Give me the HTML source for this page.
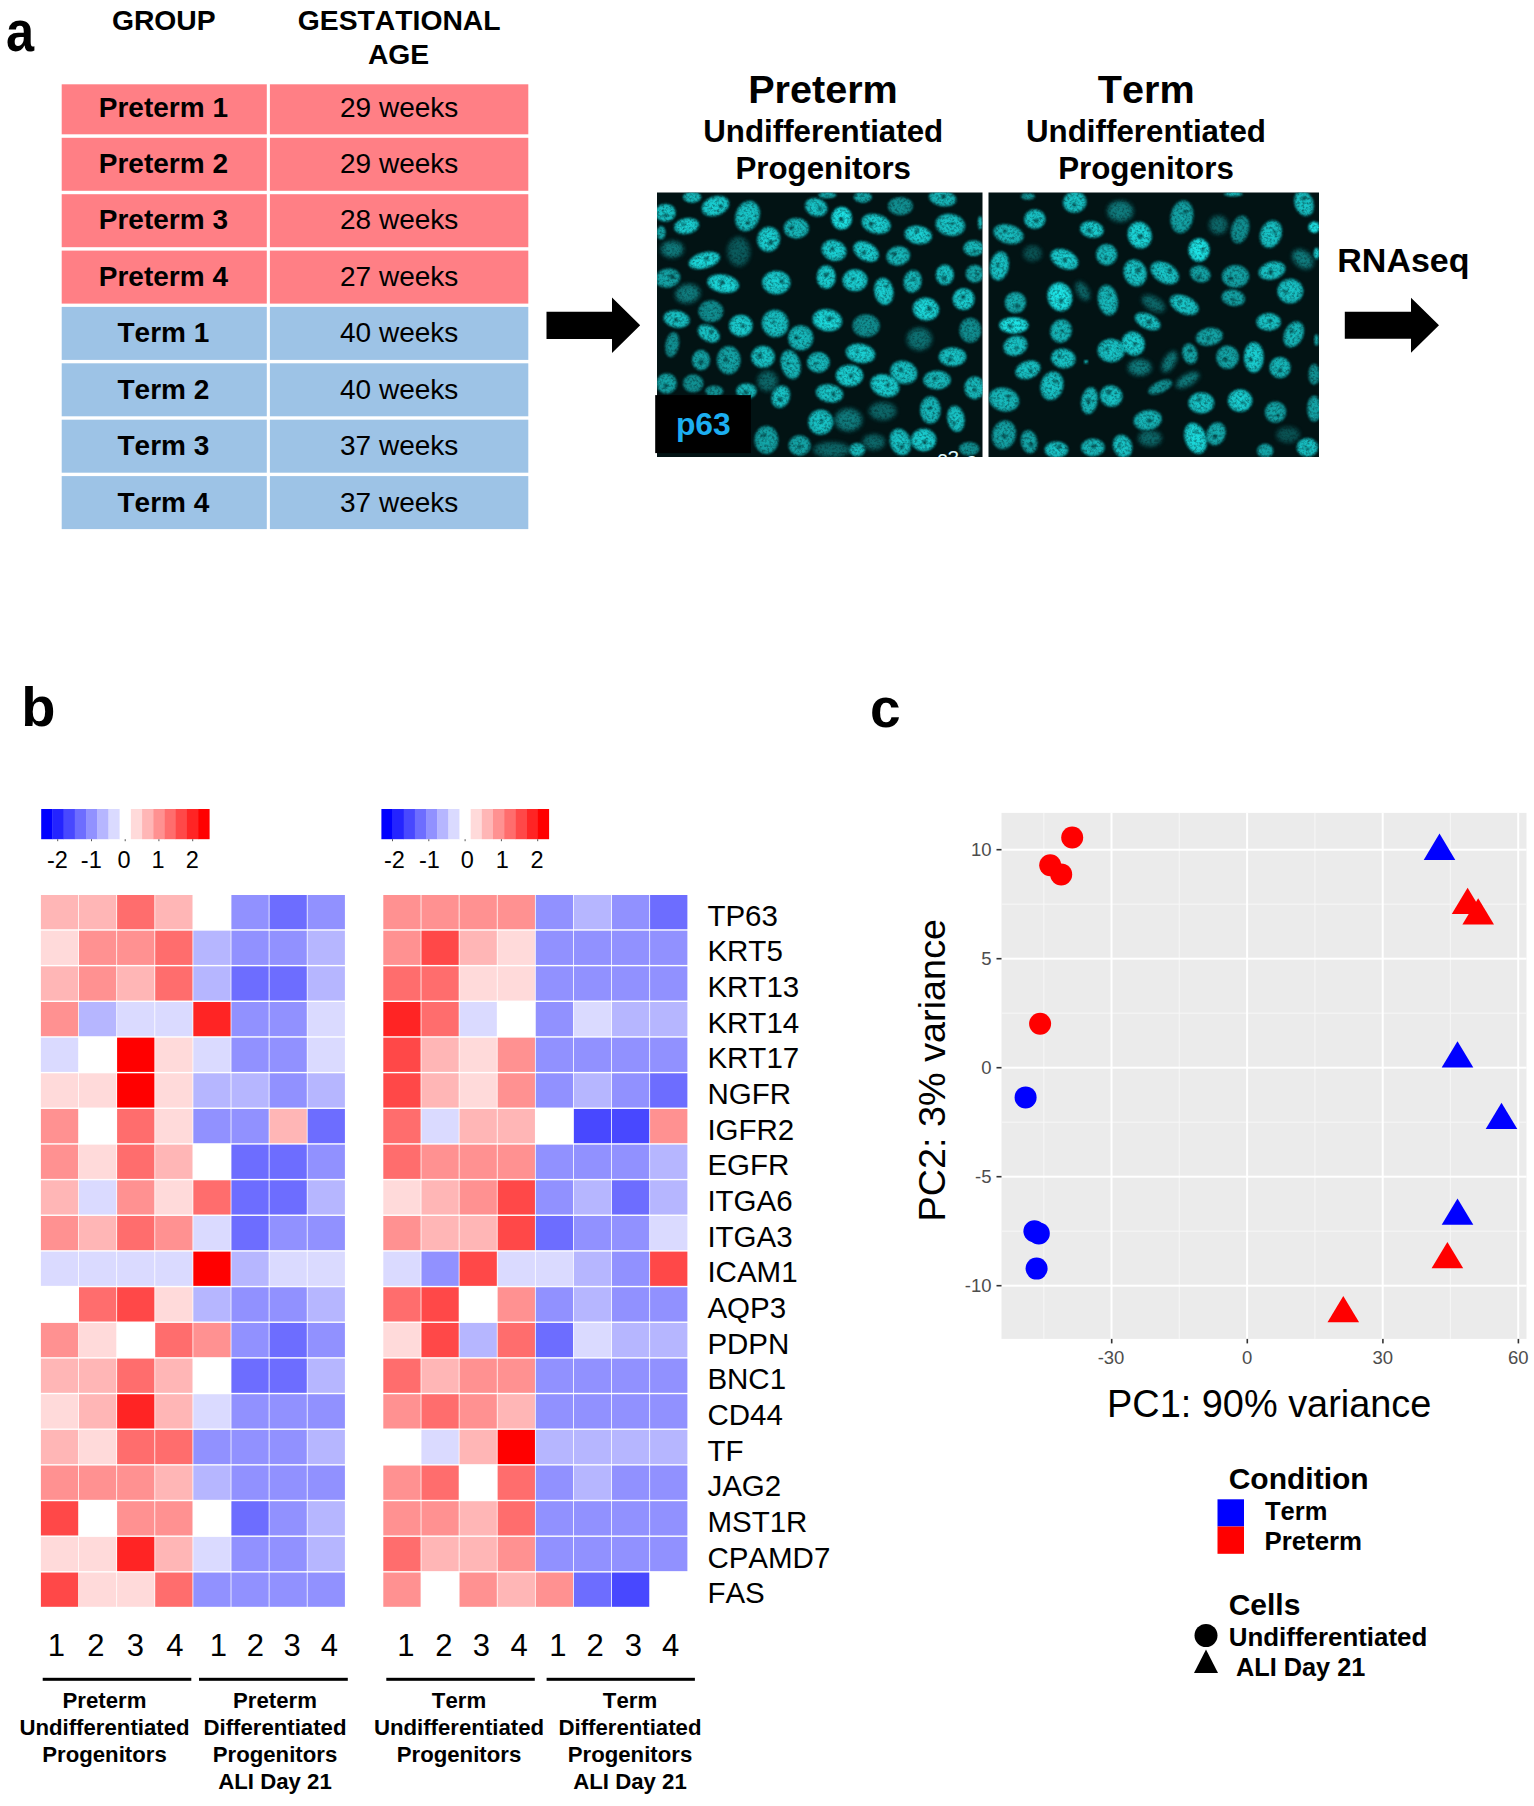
<!DOCTYPE html>
<html lang="en"><head><meta charset="utf-8"><title>Figure</title>
<style>
html,body{margin:0;padding:0;background:#fff;}
body{width:1534px;height:1806px;overflow:hidden;font-family:"Liberation Sans",Arial,sans-serif;}
svg{display:block}
text{font-family:"Liberation Sans",Arial,sans-serif;fill:#000;font-kerning:none;font-feature-settings:"kern" 0,"liga" 0}
.b{font-weight:bold}
.m{text-anchor:middle}
.e{text-anchor:end}
.g{fill:#4d4d4d}
</style></head><body>
<svg width="1534" height="1806" viewBox="0 0 1534 1806">
<defs>
<radialGradient id="ng" cx="50%" cy="50%" r="50%"><stop offset="0" stop-color="#20eaec"/><stop offset="0.75" stop-color="#1bd9dc"/><stop offset="1" stop-color="#0ea8ac"/></radialGradient>
<filter id="bl" x="-20%" y="-20%" width="140%" height="140%"><feGaussianBlur stdDeviation="0.9"/></filter>
<filter id="bl2" x="-30%" y="-30%" width="160%" height="160%"><feGaussianBlur stdDeviation="2.2"/></filter>
<filter id="tex" filterUnits="userSpaceOnUse" x="650" y="185" width="680" height="280" color-interpolation-filters="sRGB">
<feTurbulence type="fractalNoise" baseFrequency="0.4" numOctaves="2" seed="7" result="n"/>
<feColorMatrix in="n" type="matrix" values="1.0 0 0 0 0.42  1.0 0 0 0 0.42  1.0 0 0 0 0.42  0 0 0 0 1" result="m"/>
<feComposite in="SourceGraphic" in2="m" operator="arithmetic" k1="1" k2="0" k3="0" k4="0"/>
</filter>
<clipPath id="c1"><rect x="657" y="192.5" width="325.5" height="264.5"/></clipPath>
<clipPath id="c2"><rect x="988.5" y="192.5" width="330.5" height="264.5"/></clipPath>
</defs>
<rect width="1534" height="1806" fill="#fff"/>
<text class="b" transform="translate(6.05 51) scale(0.871 1)" font-size="58">a</text>
<text class="b m" x="163.8" y="29.7" font-size="28.3">GROUP</text>
<text class="b m" x="399.2" y="29.7" font-size="28.3">GESTATIONAL</text>
<text class="b m" x="398.6" y="63.7" font-size="28.3">AGE</text>
<rect x="61.7" y="84.3" width="205.1" height="50" fill="#FF7F85"/>
<rect x="269.9" y="84.3" width="258.4" height="50" fill="#FF7F85"/>
<text class="b m" x="163.4" y="117.4" font-size="28">Preterm 1</text>
<text class="m" x="399.2" y="117.4" font-size="28">29 weeks</text>
<rect x="61.7" y="137.8" width="205.1" height="53" fill="#FF7F85"/>
<rect x="269.9" y="137.8" width="258.4" height="53" fill="#FF7F85"/>
<text class="b m" x="163.4" y="172.8" font-size="28">Preterm 2</text>
<text class="m" x="399.2" y="172.8" font-size="28">29 weeks</text>
<rect x="61.7" y="194.2" width="205.1" height="53" fill="#FF7F85"/>
<rect x="269.9" y="194.2" width="258.4" height="53" fill="#FF7F85"/>
<text class="b m" x="163.4" y="229.3" font-size="28">Preterm 3</text>
<text class="m" x="399.2" y="229.3" font-size="28">28 weeks</text>
<rect x="61.7" y="250.6" width="205.1" height="53" fill="#FF7F85"/>
<rect x="269.9" y="250.6" width="258.4" height="53" fill="#FF7F85"/>
<text class="b m" x="163.4" y="285.8" font-size="28">Preterm 4</text>
<text class="m" x="399.2" y="285.8" font-size="28">27 weeks</text>
<rect x="61.7" y="306.9" width="205.1" height="53" fill="#9DC3E6"/>
<rect x="269.9" y="306.9" width="258.4" height="53" fill="#9DC3E6"/>
<text class="b m" x="163.4" y="342.3" font-size="28">Term 1</text>
<text class="m" x="399.2" y="342.3" font-size="28">40 weeks</text>
<rect x="61.7" y="363.3" width="205.1" height="53" fill="#9DC3E6"/>
<rect x="269.9" y="363.3" width="258.4" height="53" fill="#9DC3E6"/>
<text class="b m" x="163.4" y="398.8" font-size="28">Term 2</text>
<text class="m" x="399.2" y="398.8" font-size="28">40 weeks</text>
<rect x="61.7" y="419.7" width="205.1" height="53" fill="#9DC3E6"/>
<rect x="269.9" y="419.7" width="258.4" height="53" fill="#9DC3E6"/>
<text class="b m" x="163.4" y="455.3" font-size="28">Term 3</text>
<text class="m" x="399.2" y="455.3" font-size="28">37 weeks</text>
<rect x="61.7" y="476.1" width="205.1" height="53" fill="#9DC3E6"/>
<rect x="269.9" y="476.1" width="258.4" height="53" fill="#9DC3E6"/>
<text class="b m" x="163.4" y="511.8" font-size="28">Term 4</text>
<text class="m" x="399.2" y="511.8" font-size="28">37 weeks</text>
<path d="M546.5 311.7 H612 V297.5 L640.2 325.3 L612 353.1 V338.90000000000003 H546.5 Z" fill="#000"/>
<path d="M1344.8 311.8 H1411 V297.8 L1439 325.3 L1411 352.8 V338.8 H1344.8 Z" fill="#000"/>
<text class="b" x="1337.3" y="271.8" font-size="34">RNAseq</text>
<text class="b m" x="823" y="102.8" font-size="39.6">Preterm</text>
<text class="b m" x="823.2" y="142" font-size="31.3">Undifferentiated</text>
<text class="b m" x="823.2" y="178.8" font-size="31.3">Progenitors</text>
<text class="b m" x="1146.2" y="102.8" font-size="39.6">Term</text>
<text class="b m" x="1146" y="142" font-size="31.3">Undifferentiated</text>
<text class="b m" x="1146" y="178.8" font-size="31.3">Progenitors</text>
<rect x="657" y="192.5" width="325.5" height="264.5" fill="#021314"/>
<g clip-path="url(#c1)"><g filter="url(#tex)">
<ellipse cx="665.5" cy="212.7" rx="10.5" ry="9.3" transform="rotate(0 665.5 212.7)" fill="url(#ng)" opacity="0.85" filter="url(#bl)"/>
<circle cx="665.7" cy="215.3" r="2.0" fill="#04383b" opacity="0.75" filter="url(#bl)"/>
<ellipse cx="692.1" cy="197.2" rx="9.3" ry="5.8" transform="rotate(0 692.1 197.2)" fill="url(#ng)" opacity="0.8" filter="url(#bl)"/>
<ellipse cx="686.6" cy="226.0" rx="12.8" ry="8.1" transform="rotate(-10 686.6 226.0)" fill="url(#ng)" opacity="0.9" filter="url(#bl)"/>
<circle cx="683.5" cy="224.5" r="1.7" fill="#04383b" opacity="0.75" filter="url(#bl)"/>
<ellipse cx="715.4" cy="206.1" rx="14.4" ry="9.8" transform="rotate(-20 715.4 206.1)" fill="url(#ng)" opacity="0.9" filter="url(#bl)"/>
<circle cx="720.8" cy="206.4" r="1.9" fill="#04383b" opacity="0.75" filter="url(#bl)"/>
<ellipse cx="747.5" cy="216.0" rx="12.1" ry="15.8" transform="rotate(20 747.5 216.0)" fill="url(#ng)" opacity="0.85" filter="url(#bl)"/>
<circle cx="748.0" cy="222.8" r="2.1" fill="#04383b" opacity="0.75" filter="url(#bl)"/>
<ellipse cx="661.1" cy="232.7" rx="4.7" ry="7.0" transform="rotate(0 661.1 232.7)" fill="url(#ng)" opacity="0.7" filter="url(#bl)"/>
<ellipse cx="672.2" cy="249.3" rx="11.6" ry="8.8" transform="rotate(0 672.2 249.3)" fill="url(#ng)" opacity="0.5" filter="url(#bl2)"/>
<ellipse cx="704.3" cy="260.4" rx="16.3" ry="8.1" transform="rotate(-15 704.3 260.4)" fill="url(#ng)" opacity="0.95" filter="url(#bl)"/>
<circle cx="706.4" cy="258.6" r="2.2" fill="#04383b" opacity="0.75" filter="url(#bl)"/>
<ellipse cx="738.7" cy="251.5" rx="11.6" ry="15.1" transform="rotate(0 738.7 251.5)" fill="url(#ng)" opacity="0.35" filter="url(#bl2)"/>
<ellipse cx="768.6" cy="239.3" rx="11.6" ry="12.8" transform="rotate(10 768.6 239.3)" fill="url(#ng)" opacity="0.9" filter="url(#bl)"/>
<circle cx="770.7" cy="242.5" r="2.5" fill="#04383b" opacity="0.75" filter="url(#bl)"/>
<ellipse cx="796.3" cy="228.2" rx="12.8" ry="10.5" transform="rotate(0 796.3 228.2)" fill="url(#ng)" opacity="0.8" filter="url(#bl)"/>
<circle cx="791.9" cy="227.7" r="2.3" fill="#04383b" opacity="0.75" filter="url(#bl)"/>
<ellipse cx="816.2" cy="207.2" rx="11.6" ry="9.3" transform="rotate(20 816.2 207.2)" fill="url(#ng)" opacity="0.85" filter="url(#bl)"/>
<circle cx="819.9" cy="208.4" r="2.2" fill="#04383b" opacity="0.75" filter="url(#bl)"/>
<ellipse cx="841.7" cy="218.2" rx="10.5" ry="11.6" transform="rotate(0 841.7 218.2)" fill="url(#ng)" opacity="1.0" filter="url(#bl)"/>
<circle cx="841.4" cy="219.4" r="2.5" fill="#04383b" opacity="0.75" filter="url(#bl)"/>
<ellipse cx="827.3" cy="195.0" rx="9.3" ry="3.5" transform="rotate(0 827.3 195.0)" fill="url(#ng)" opacity="0.7" filter="url(#bl)"/>
<ellipse cx="862.8" cy="197.2" rx="9.3" ry="5.8" transform="rotate(0 862.8 197.2)" fill="url(#ng)" opacity="0.7" filter="url(#bl)"/>
<ellipse cx="876.1" cy="223.8" rx="15.1" ry="9.8" transform="rotate(15 876.1 223.8)" fill="url(#ng)" opacity="0.9" filter="url(#bl)"/>
<circle cx="871.1" cy="224.3" r="2.5" fill="#04383b" opacity="0.75" filter="url(#bl)"/>
<ellipse cx="900.4" cy="206.1" rx="12.8" ry="9.3" transform="rotate(0 900.4 206.1)" fill="url(#ng)" opacity="0.6" filter="url(#bl)"/>
<ellipse cx="918.2" cy="234.9" rx="14.0" ry="9.3" transform="rotate(10 918.2 234.9)" fill="url(#ng)" opacity="0.9" filter="url(#bl)"/>
<circle cx="916.9" cy="231.2" r="2.0" fill="#04383b" opacity="0.75" filter="url(#bl)"/>
<ellipse cx="942.6" cy="198.3" rx="14.0" ry="8.1" transform="rotate(10 942.6 198.3)" fill="url(#ng)" opacity="0.8" filter="url(#bl)"/>
<circle cx="943.6" cy="196.4" r="2.5" fill="#04383b" opacity="0.75" filter="url(#bl)"/>
<ellipse cx="950.3" cy="224.9" rx="15.1" ry="11.2" transform="rotate(10 950.3 224.9)" fill="url(#ng)" opacity="0.85" filter="url(#bl)"/>
<circle cx="951.7" cy="223.9" r="1.7" fill="#04383b" opacity="0.75" filter="url(#bl)"/>
<ellipse cx="973.6" cy="248.2" rx="10.5" ry="8.1" transform="rotate(0 973.6 248.2)" fill="url(#ng)" opacity="0.8" filter="url(#bl)"/>
<circle cx="974.5" cy="251.5" r="2.0" fill="#04383b" opacity="0.75" filter="url(#bl)"/>
<ellipse cx="834.0" cy="250.4" rx="12.8" ry="10.5" transform="rotate(20 834.0 250.4)" fill="url(#ng)" opacity="0.9" filter="url(#bl)"/>
<circle cx="832.2" cy="248.9" r="2.1" fill="#04383b" opacity="0.75" filter="url(#bl)"/>
<ellipse cx="866.1" cy="251.5" rx="14.0" ry="9.3" transform="rotate(30 866.1 251.5)" fill="url(#ng)" opacity="0.9" filter="url(#bl)"/>
<circle cx="863.9" cy="252.8" r="2.2" fill="#04383b" opacity="0.75" filter="url(#bl)"/>
<ellipse cx="898.2" cy="255.9" rx="12.1" ry="9.8" transform="rotate(-10 898.2 255.9)" fill="url(#ng)" opacity="0.8" filter="url(#bl)"/>
<circle cx="894.1" cy="254.0" r="2.3" fill="#04383b" opacity="0.75" filter="url(#bl)"/>
<ellipse cx="667.7" cy="278.1" rx="12.8" ry="9.8" transform="rotate(-10 667.7 278.1)" fill="url(#ng)" opacity="0.7" filter="url(#bl)"/>
<circle cx="672.1" cy="276.5" r="2.6" fill="#04383b" opacity="0.75" filter="url(#bl)"/>
<ellipse cx="723.1" cy="283.6" rx="16.3" ry="9.3" transform="rotate(10 723.1 283.6)" fill="url(#ng)" opacity="0.95" filter="url(#bl)"/>
<circle cx="722.0" cy="282.4" r="2.5" fill="#04383b" opacity="0.75" filter="url(#bl)"/>
<ellipse cx="776.3" cy="282.5" rx="14.4" ry="12.1" transform="rotate(0 776.3 282.5)" fill="url(#ng)" opacity="0.9" filter="url(#bl)"/>
<circle cx="781.9" cy="281.4" r="2.2" fill="#04383b" opacity="0.75" filter="url(#bl)"/>
<ellipse cx="826.2" cy="277.0" rx="9.8" ry="12.1" transform="rotate(0 826.2 277.0)" fill="url(#ng)" opacity="0.9" filter="url(#bl)"/>
<circle cx="825.8" cy="275.0" r="2.4" fill="#04383b" opacity="0.75" filter="url(#bl)"/>
<ellipse cx="855.0" cy="280.3" rx="12.8" ry="11.2" transform="rotate(0 855.0 280.3)" fill="url(#ng)" opacity="0.9" filter="url(#bl)"/>
<circle cx="852.8" cy="279.4" r="1.7" fill="#04383b" opacity="0.75" filter="url(#bl)"/>
<ellipse cx="883.8" cy="291.4" rx="9.8" ry="14.0" transform="rotate(-10 883.8 291.4)" fill="url(#ng)" opacity="0.9" filter="url(#bl)"/>
<circle cx="886.3" cy="286.7" r="1.7" fill="#04383b" opacity="0.75" filter="url(#bl)"/>
<ellipse cx="912.6" cy="281.4" rx="9.3" ry="11.6" transform="rotate(10 912.6 281.4)" fill="url(#ng)" opacity="0.8" filter="url(#bl)"/>
<circle cx="913.3" cy="278.8" r="1.8" fill="#04383b" opacity="0.75" filter="url(#bl)"/>
<ellipse cx="944.8" cy="274.8" rx="9.3" ry="10.5" transform="rotate(0 944.8 274.8)" fill="url(#ng)" opacity="0.85" filter="url(#bl)"/>
<circle cx="943.9" cy="278.3" r="2.5" fill="#04383b" opacity="0.75" filter="url(#bl)"/>
<ellipse cx="974.7" cy="273.7" rx="9.3" ry="9.3" transform="rotate(0 974.7 273.7)" fill="url(#ng)" opacity="0.7" filter="url(#bl)"/>
<circle cx="977.4" cy="274.4" r="1.6" fill="#04383b" opacity="0.75" filter="url(#bl)"/>
<ellipse cx="687.7" cy="293.6" rx="12.8" ry="9.8" transform="rotate(-10 687.7 293.6)" fill="url(#ng)" opacity="0.5" filter="url(#bl2)"/>
<ellipse cx="963.6" cy="299.1" rx="11.2" ry="11.2" transform="rotate(0 963.6 299.1)" fill="url(#ng)" opacity="0.9" filter="url(#bl)"/>
<circle cx="963.2" cy="296.9" r="2.5" fill="#04383b" opacity="0.75" filter="url(#bl)"/>
<ellipse cx="925.9" cy="309.1" rx="13.5" ry="11.6" transform="rotate(10 925.9 309.1)" fill="url(#ng)" opacity="0.95" filter="url(#bl)"/>
<circle cx="929.5" cy="308.7" r="2.6" fill="#04383b" opacity="0.75" filter="url(#bl)"/>
<ellipse cx="710.9" cy="311.3" rx="12.8" ry="11.2" transform="rotate(0 710.9 311.3)" fill="url(#ng)" opacity="0.6" filter="url(#bl)"/>
<ellipse cx="676.6" cy="319.1" rx="13.5" ry="8.8" transform="rotate(10 676.6 319.1)" fill="url(#ng)" opacity="0.85" filter="url(#bl)"/>
<circle cx="676.0" cy="320.1" r="2.2" fill="#04383b" opacity="0.75" filter="url(#bl)"/>
<ellipse cx="740.9" cy="325.7" rx="12.1" ry="11.2" transform="rotate(0 740.9 325.7)" fill="url(#ng)" opacity="0.9" filter="url(#bl)"/>
<circle cx="742.8" cy="326.1" r="2.0" fill="#04383b" opacity="0.75" filter="url(#bl)"/>
<ellipse cx="775.2" cy="323.5" rx="13.5" ry="14.0" transform="rotate(-20 775.2 323.5)" fill="url(#ng)" opacity="0.85" filter="url(#bl)"/>
<circle cx="773.7" cy="322.2" r="1.6" fill="#04383b" opacity="0.75" filter="url(#bl)"/>
<ellipse cx="827.3" cy="320.2" rx="15.1" ry="11.2" transform="rotate(10 827.3 320.2)" fill="url(#ng)" opacity="0.95" filter="url(#bl)"/>
<circle cx="829.3" cy="318.5" r="2.6" fill="#04383b" opacity="0.75" filter="url(#bl)"/>
<ellipse cx="866.1" cy="325.7" rx="14.0" ry="11.6" transform="rotate(0 866.1 325.7)" fill="url(#ng)" opacity="0.6" filter="url(#bl)"/>
<ellipse cx="708.7" cy="333.5" rx="12.1" ry="8.1" transform="rotate(30 708.7 333.5)" fill="url(#ng)" opacity="0.85" filter="url(#bl)"/>
<circle cx="710.9" cy="332.4" r="2.1" fill="#04383b" opacity="0.75" filter="url(#bl)"/>
<ellipse cx="800.7" cy="337.9" rx="12.8" ry="12.8" transform="rotate(0 800.7 337.9)" fill="url(#ng)" opacity="0.8" filter="url(#bl)"/>
<circle cx="796.8" cy="337.4" r="2.2" fill="#04383b" opacity="0.75" filter="url(#bl)"/>
<ellipse cx="672.2" cy="344.6" rx="7.0" ry="12.8" transform="rotate(10 672.2 344.6)" fill="url(#ng)" opacity="0.6" filter="url(#bl)"/>
<ellipse cx="919.3" cy="339.0" rx="12.8" ry="11.6" transform="rotate(0 919.3 339.0)" fill="url(#ng)" opacity="0.45" filter="url(#bl2)"/>
<ellipse cx="970.3" cy="330.2" rx="11.2" ry="12.8" transform="rotate(0 970.3 330.2)" fill="url(#ng)" opacity="0.6" filter="url(#bl)"/>
<ellipse cx="763.0" cy="356.8" rx="12.1" ry="11.2" transform="rotate(0 763.0 356.8)" fill="url(#ng)" opacity="0.85" filter="url(#bl)"/>
<circle cx="759.6" cy="355.5" r="2.5" fill="#04383b" opacity="0.75" filter="url(#bl)"/>
<ellipse cx="728.7" cy="360.1" rx="12.1" ry="14.4" transform="rotate(0 728.7 360.1)" fill="url(#ng)" opacity="0.7" filter="url(#bl)"/>
<circle cx="725.8" cy="359.9" r="2.3" fill="#04383b" opacity="0.75" filter="url(#bl)"/>
<ellipse cx="701.0" cy="360.1" rx="9.3" ry="10.5" transform="rotate(0 701.0 360.1)" fill="url(#ng)" opacity="0.7" filter="url(#bl)"/>
<circle cx="701.1" cy="362.1" r="2.6" fill="#04383b" opacity="0.75" filter="url(#bl)"/>
<ellipse cx="790.7" cy="364.5" rx="9.8" ry="15.1" transform="rotate(-15 790.7 364.5)" fill="url(#ng)" opacity="0.8" filter="url(#bl)"/>
<circle cx="788.0" cy="364.0" r="1.6" fill="#04383b" opacity="0.75" filter="url(#bl)"/>
<ellipse cx="818.4" cy="362.3" rx="11.6" ry="10.5" transform="rotate(0 818.4 362.3)" fill="url(#ng)" opacity="0.8" filter="url(#bl)"/>
<circle cx="815.5" cy="363.8" r="1.6" fill="#04383b" opacity="0.75" filter="url(#bl)"/>
<ellipse cx="860.5" cy="353.4" rx="15.1" ry="9.8" transform="rotate(10 860.5 353.4)" fill="url(#ng)" opacity="0.9" filter="url(#bl)"/>
<circle cx="857.1" cy="351.5" r="1.7" fill="#04383b" opacity="0.75" filter="url(#bl)"/>
<ellipse cx="903.8" cy="372.3" rx="14.0" ry="11.6" transform="rotate(20 903.8 372.3)" fill="url(#ng)" opacity="0.85" filter="url(#bl)"/>
<circle cx="901.3" cy="370.2" r="2.3" fill="#04383b" opacity="0.75" filter="url(#bl)"/>
<ellipse cx="952.5" cy="356.8" rx="14.0" ry="9.8" transform="rotate(0 952.5 356.8)" fill="url(#ng)" opacity="0.85" filter="url(#bl)"/>
<circle cx="949.8" cy="359.4" r="2.3" fill="#04383b" opacity="0.75" filter="url(#bl)"/>
<ellipse cx="849.5" cy="375.6" rx="14.0" ry="11.2" transform="rotate(0 849.5 375.6)" fill="url(#ng)" opacity="0.9" filter="url(#bl)"/>
<circle cx="851.1" cy="375.8" r="2.3" fill="#04383b" opacity="0.75" filter="url(#bl)"/>
<ellipse cx="884.9" cy="385.6" rx="15.1" ry="11.2" transform="rotate(20 884.9 385.6)" fill="url(#ng)" opacity="0.9" filter="url(#bl)"/>
<circle cx="887.6" cy="385.1" r="2.1" fill="#04383b" opacity="0.75" filter="url(#bl)"/>
<ellipse cx="937.0" cy="380.0" rx="14.0" ry="9.8" transform="rotate(0 937.0 380.0)" fill="url(#ng)" opacity="0.8" filter="url(#bl)"/>
<circle cx="934.7" cy="379.0" r="2.0" fill="#04383b" opacity="0.75" filter="url(#bl)"/>
<ellipse cx="666.6" cy="383.4" rx="10.5" ry="10.5" transform="rotate(0 666.6 383.4)" fill="url(#ng)" opacity="0.7" filter="url(#bl)"/>
<circle cx="665.7" cy="385.5" r="2.2" fill="#04383b" opacity="0.75" filter="url(#bl)"/>
<ellipse cx="693.2" cy="383.4" rx="10.5" ry="9.3" transform="rotate(0 693.2 383.4)" fill="url(#ng)" opacity="0.6" filter="url(#bl)"/>
<ellipse cx="767.5" cy="381.1" rx="10.5" ry="10.5" transform="rotate(0 767.5 381.1)" fill="url(#ng)" opacity="0.4" filter="url(#bl2)"/>
<ellipse cx="780.8" cy="396.7" rx="9.3" ry="11.6" transform="rotate(20 780.8 396.7)" fill="url(#ng)" opacity="0.85" filter="url(#bl)"/>
<circle cx="780.1" cy="399.1" r="2.4" fill="#04383b" opacity="0.75" filter="url(#bl)"/>
<ellipse cx="829.5" cy="393.3" rx="14.0" ry="9.3" transform="rotate(10 829.5 393.3)" fill="url(#ng)" opacity="0.85" filter="url(#bl)"/>
<circle cx="833.4" cy="393.8" r="2.3" fill="#04383b" opacity="0.75" filter="url(#bl)"/>
<ellipse cx="746.4" cy="391.1" rx="10.5" ry="8.1" transform="rotate(0 746.4 391.1)" fill="url(#ng)" opacity="0.8" filter="url(#bl)"/>
<circle cx="745.8" cy="392.4" r="2.4" fill="#04383b" opacity="0.75" filter="url(#bl)"/>
<ellipse cx="974.7" cy="387.8" rx="10.5" ry="11.6" transform="rotate(0 974.7 387.8)" fill="url(#ng)" opacity="0.8" filter="url(#bl)"/>
<circle cx="974.8" cy="389.6" r="2.0" fill="#04383b" opacity="0.75" filter="url(#bl)"/>
<ellipse cx="930.4" cy="410.0" rx="10.5" ry="14.0" transform="rotate(0 930.4 410.0)" fill="url(#ng)" opacity="0.8" filter="url(#bl)"/>
<circle cx="929.9" cy="408.2" r="1.9" fill="#04383b" opacity="0.75" filter="url(#bl)"/>
<ellipse cx="955.9" cy="418.8" rx="8.8" ry="13.5" transform="rotate(-10 955.9 418.8)" fill="url(#ng)" opacity="0.85" filter="url(#bl)"/>
<circle cx="954.2" cy="423.2" r="2.0" fill="#04383b" opacity="0.75" filter="url(#bl)"/>
<ellipse cx="820.7" cy="422.1" rx="12.8" ry="12.8" transform="rotate(0 820.7 422.1)" fill="url(#ng)" opacity="0.85" filter="url(#bl)"/>
<circle cx="821.8" cy="420.6" r="1.9" fill="#04383b" opacity="0.75" filter="url(#bl)"/>
<ellipse cx="848.4" cy="419.9" rx="14.0" ry="11.6" transform="rotate(0 848.4 419.9)" fill="url(#ng)" opacity="0.5" filter="url(#bl2)"/>
<ellipse cx="882.7" cy="411.1" rx="14.0" ry="9.3" transform="rotate(0 882.7 411.1)" fill="url(#ng)" opacity="0.4" filter="url(#bl2)"/>
<ellipse cx="766.4" cy="439.9" rx="12.1" ry="14.4" transform="rotate(0 766.4 439.9)" fill="url(#ng)" opacity="0.7" filter="url(#bl)"/>
<circle cx="763.6" cy="435.3" r="2.1" fill="#04383b" opacity="0.75" filter="url(#bl)"/>
<ellipse cx="799.6" cy="445.4" rx="11.2" ry="10.5" transform="rotate(0 799.6 445.4)" fill="url(#ng)" opacity="0.7" filter="url(#bl)"/>
<circle cx="799.8" cy="446.8" r="2.1" fill="#04383b" opacity="0.75" filter="url(#bl)"/>
<ellipse cx="900.4" cy="442.1" rx="10.5" ry="14.0" transform="rotate(-20 900.4 442.1)" fill="url(#ng)" opacity="0.85" filter="url(#bl)"/>
<circle cx="901.8" cy="446.8" r="2.4" fill="#04383b" opacity="0.75" filter="url(#bl)"/>
<ellipse cx="923.7" cy="439.9" rx="12.8" ry="11.6" transform="rotate(0 923.7 439.9)" fill="url(#ng)" opacity="0.9" filter="url(#bl)"/>
<circle cx="924.7" cy="441.9" r="2.4" fill="#04383b" opacity="0.75" filter="url(#bl)"/>
<ellipse cx="857.2" cy="449.8" rx="8.1" ry="7.0" transform="rotate(0 857.2 449.8)" fill="url(#ng)" opacity="0.8" filter="url(#bl)"/>
<ellipse cx="831.7" cy="449.8" rx="18.6" ry="8.1" transform="rotate(0 831.7 449.8)" fill="url(#ng)" opacity="0.4" filter="url(#bl2)"/>
<ellipse cx="873.8" cy="442.1" rx="11.6" ry="8.1" transform="rotate(0 873.8 442.1)" fill="url(#ng)" opacity="0.4" filter="url(#bl2)"/>
<ellipse cx="969.1" cy="448.7" rx="10.5" ry="7.0" transform="rotate(0 969.1 448.7)" fill="url(#ng)" opacity="0.6" filter="url(#bl)"/>
<ellipse cx="980.2" cy="222.7" rx="2.3" ry="7.0" transform="rotate(0 980.2 222.7)" fill="url(#ng)" opacity="0.8" filter="url(#bl)"/>
<ellipse cx="714.3" cy="391.1" rx="9.3" ry="5.8" transform="rotate(0 714.3 391.1)" fill="url(#ng)" opacity="0.6" filter="url(#bl)"/>
</g></g>
<rect x="988.5" y="192.5" width="330.5" height="264.5" fill="#021314"/>
<g clip-path="url(#c2)"><g filter="url(#tex)">
<ellipse cx="1008.5" cy="234.1" rx="15.6" ry="9.6" transform="rotate(15 1008.5 234.1)" fill="url(#ng)" opacity="0.8" filter="url(#bl)"/>
<circle cx="1005.0" cy="231.3" r="1.9" fill="#04383b" opacity="0.75" filter="url(#bl)"/>
<ellipse cx="1034.8" cy="219.2" rx="10.8" ry="10.1" transform="rotate(0 1034.8 219.2)" fill="url(#ng)" opacity="0.85" filter="url(#bl)"/>
<circle cx="1036.2" cy="220.6" r="2.4" fill="#04383b" opacity="0.75" filter="url(#bl)"/>
<ellipse cx="1074.7" cy="202.1" rx="12.0" ry="10.8" transform="rotate(-10 1074.7 202.1)" fill="url(#ng)" opacity="0.85" filter="url(#bl)"/>
<circle cx="1074.4" cy="204.4" r="2.0" fill="#04383b" opacity="0.75" filter="url(#bl)"/>
<ellipse cx="1091.8" cy="229.5" rx="12.0" ry="8.4" transform="rotate(10 1091.8 229.5)" fill="url(#ng)" opacity="0.9" filter="url(#bl)"/>
<circle cx="1089.4" cy="230.4" r="2.5" fill="#04383b" opacity="0.75" filter="url(#bl)"/>
<ellipse cx="1120.3" cy="211.2" rx="13.2" ry="10.8" transform="rotate(0 1120.3 211.2)" fill="url(#ng)" opacity="0.5" filter="url(#bl2)"/>
<ellipse cx="1139.7" cy="235.2" rx="12.0" ry="13.9" transform="rotate(-20 1139.7 235.2)" fill="url(#ng)" opacity="0.95" filter="url(#bl)"/>
<circle cx="1140.4" cy="236.3" r="2.5" fill="#04383b" opacity="0.75" filter="url(#bl)"/>
<ellipse cx="1181.9" cy="216.9" rx="11.5" ry="16.8" transform="rotate(10 1181.9 216.9)" fill="url(#ng)" opacity="0.7" filter="url(#bl)"/>
<circle cx="1185.5" cy="212.1" r="2.0" fill="#04383b" opacity="0.75" filter="url(#bl)"/>
<ellipse cx="1218.4" cy="224.9" rx="9.6" ry="9.6" transform="rotate(0 1218.4 224.9)" fill="url(#ng)" opacity="0.4" filter="url(#bl2)"/>
<ellipse cx="1240.1" cy="229.5" rx="9.1" ry="14.4" transform="rotate(15 1240.1 229.5)" fill="url(#ng)" opacity="0.6" filter="url(#bl)"/>
<ellipse cx="1270.9" cy="234.1" rx="10.8" ry="14.4" transform="rotate(20 1270.9 234.1)" fill="url(#ng)" opacity="0.85" filter="url(#bl)"/>
<circle cx="1275.0" cy="232.2" r="1.8" fill="#04383b" opacity="0.75" filter="url(#bl)"/>
<ellipse cx="1304.0" cy="203.3" rx="9.6" ry="13.2" transform="rotate(-20 1304.0 203.3)" fill="url(#ng)" opacity="0.85" filter="url(#bl)"/>
<circle cx="1303.9" cy="198.3" r="2.3" fill="#04383b" opacity="0.75" filter="url(#bl)"/>
<ellipse cx="1314.2" cy="227.2" rx="6.0" ry="6.0" transform="rotate(0 1314.2 227.2)" fill="url(#ng)" opacity="1.0" filter="url(#bl)"/>
<ellipse cx="999.4" cy="266.0" rx="9.6" ry="14.9" transform="rotate(10 999.4 266.0)" fill="url(#ng)" opacity="0.85" filter="url(#bl)"/>
<circle cx="997.6" cy="265.7" r="1.9" fill="#04383b" opacity="0.75" filter="url(#bl)"/>
<ellipse cx="1032.5" cy="253.4" rx="9.6" ry="8.4" transform="rotate(0 1032.5 253.4)" fill="url(#ng)" opacity="0.3" filter="url(#bl2)"/>
<ellipse cx="1064.4" cy="259.2" rx="14.9" ry="9.6" transform="rotate(25 1064.4 259.2)" fill="url(#ng)" opacity="0.9" filter="url(#bl)"/>
<circle cx="1064.7" cy="260.3" r="2.2" fill="#04383b" opacity="0.75" filter="url(#bl)"/>
<ellipse cx="1106.6" cy="254.6" rx="10.8" ry="10.8" transform="rotate(0 1106.6 254.6)" fill="url(#ng)" opacity="0.8" filter="url(#bl)"/>
<circle cx="1105.7" cy="258.4" r="1.6" fill="#04383b" opacity="0.75" filter="url(#bl)"/>
<ellipse cx="1135.1" cy="272.8" rx="11.5" ry="13.9" transform="rotate(-20 1135.1 272.8)" fill="url(#ng)" opacity="0.85" filter="url(#bl)"/>
<circle cx="1138.2" cy="270.2" r="2.5" fill="#04383b" opacity="0.75" filter="url(#bl)"/>
<ellipse cx="1164.8" cy="272.8" rx="15.6" ry="10.1" transform="rotate(30 1164.8 272.8)" fill="url(#ng)" opacity="0.85" filter="url(#bl)"/>
<circle cx="1169.7" cy="270.4" r="2.2" fill="#04383b" opacity="0.75" filter="url(#bl)"/>
<ellipse cx="1199.0" cy="250.0" rx="10.8" ry="12.0" transform="rotate(0 1199.0 250.0)" fill="url(#ng)" opacity="1.0" filter="url(#bl)"/>
<circle cx="1202.7" cy="250.4" r="1.8" fill="#04383b" opacity="0.75" filter="url(#bl)"/>
<ellipse cx="1200.2" cy="274.0" rx="10.8" ry="8.4" transform="rotate(20 1200.2 274.0)" fill="url(#ng)" opacity="0.7" filter="url(#bl)"/>
<circle cx="1199.1" cy="276.5" r="2.1" fill="#04383b" opacity="0.75" filter="url(#bl)"/>
<ellipse cx="1235.5" cy="276.3" rx="13.9" ry="11.5" transform="rotate(0 1235.5 276.3)" fill="url(#ng)" opacity="0.7" filter="url(#bl)"/>
<circle cx="1230.7" cy="278.7" r="2.2" fill="#04383b" opacity="0.75" filter="url(#bl)"/>
<ellipse cx="1272.0" cy="270.6" rx="13.9" ry="9.1" transform="rotate(-15 1272.0 270.6)" fill="url(#ng)" opacity="0.85" filter="url(#bl)"/>
<circle cx="1270.7" cy="271.9" r="2.5" fill="#04383b" opacity="0.75" filter="url(#bl)"/>
<ellipse cx="1302.8" cy="259.2" rx="12.0" ry="8.4" transform="rotate(40 1302.8 259.2)" fill="url(#ng)" opacity="0.5" filter="url(#bl2)"/>
<ellipse cx="1290.3" cy="291.1" rx="13.2" ry="12.5" transform="rotate(0 1290.3 291.1)" fill="url(#ng)" opacity="0.85" filter="url(#bl)"/>
<circle cx="1285.6" cy="291.7" r="2.0" fill="#04383b" opacity="0.75" filter="url(#bl)"/>
<ellipse cx="1059.9" cy="296.8" rx="12.5" ry="14.9" transform="rotate(-15 1059.9 296.8)" fill="url(#ng)" opacity="1.0" filter="url(#bl)"/>
<circle cx="1061.0" cy="300.6" r="2.4" fill="#04383b" opacity="0.75" filter="url(#bl)"/>
<ellipse cx="1015.4" cy="302.5" rx="10.8" ry="10.8" transform="rotate(0 1015.4 302.5)" fill="url(#ng)" opacity="0.75" filter="url(#bl)"/>
<circle cx="1017.2" cy="305.9" r="2.5" fill="#04383b" opacity="0.75" filter="url(#bl)"/>
<ellipse cx="1082.7" cy="291.1" rx="6.0" ry="10.8" transform="rotate(-30 1082.7 291.1)" fill="url(#ng)" opacity="0.4" filter="url(#bl2)"/>
<ellipse cx="1107.8" cy="300.2" rx="10.1" ry="15.6" transform="rotate(-10 1107.8 300.2)" fill="url(#ng)" opacity="0.8" filter="url(#bl)"/>
<circle cx="1109.0" cy="294.8" r="1.6" fill="#04383b" opacity="0.75" filter="url(#bl)"/>
<ellipse cx="1153.4" cy="303.6" rx="13.2" ry="7.2" transform="rotate(30 1153.4 303.6)" fill="url(#ng)" opacity="0.4" filter="url(#bl2)"/>
<ellipse cx="1184.2" cy="304.8" rx="15.6" ry="9.1" transform="rotate(25 1184.2 304.8)" fill="url(#ng)" opacity="0.85" filter="url(#bl)"/>
<circle cx="1180.1" cy="302.3" r="1.6" fill="#04383b" opacity="0.75" filter="url(#bl)"/>
<ellipse cx="1233.3" cy="297.9" rx="12.0" ry="8.4" transform="rotate(10 1233.3 297.9)" fill="url(#ng)" opacity="0.7" filter="url(#bl)"/>
<circle cx="1233.0" cy="299.5" r="2.1" fill="#04383b" opacity="0.75" filter="url(#bl)"/>
<ellipse cx="1013.8" cy="325.3" rx="14.9" ry="8.4" transform="rotate(0 1013.8 325.3)" fill="url(#ng)" opacity="1.0" filter="url(#bl)"/>
<circle cx="1010.4" cy="326.3" r="2.4" fill="#04383b" opacity="0.75" filter="url(#bl)"/>
<ellipse cx="1061.0" cy="331.0" rx="10.8" ry="12.0" transform="rotate(20 1061.0 331.0)" fill="url(#ng)" opacity="0.8" filter="url(#bl)"/>
<circle cx="1062.2" cy="331.0" r="1.7" fill="#04383b" opacity="0.75" filter="url(#bl)"/>
<ellipse cx="1147.7" cy="321.4" rx="13.9" ry="7.7" transform="rotate(25 1147.7 321.4)" fill="url(#ng)" opacity="0.85" filter="url(#bl)"/>
<circle cx="1148.9" cy="322.1" r="2.6" fill="#04383b" opacity="0.75" filter="url(#bl)"/>
<ellipse cx="1268.6" cy="321.9" rx="12.5" ry="9.1" transform="rotate(0 1268.6 321.9)" fill="url(#ng)" opacity="0.85" filter="url(#bl)"/>
<circle cx="1269.6" cy="321.0" r="2.1" fill="#04383b" opacity="0.75" filter="url(#bl)"/>
<ellipse cx="1209.3" cy="336.7" rx="13.9" ry="9.1" transform="rotate(-10 1209.3 336.7)" fill="url(#ng)" opacity="0.7" filter="url(#bl)"/>
<circle cx="1208.2" cy="338.4" r="2.0" fill="#04383b" opacity="0.75" filter="url(#bl)"/>
<ellipse cx="1293.7" cy="334.4" rx="9.6" ry="13.9" transform="rotate(25 1293.7 334.4)" fill="url(#ng)" opacity="0.8" filter="url(#bl)"/>
<circle cx="1292.0" cy="331.2" r="2.0" fill="#04383b" opacity="0.75" filter="url(#bl)"/>
<ellipse cx="1015.4" cy="345.8" rx="12.5" ry="10.1" transform="rotate(-20 1015.4 345.8)" fill="url(#ng)" opacity="0.85" filter="url(#bl)"/>
<circle cx="1016.3" cy="347.8" r="1.7" fill="#04383b" opacity="0.75" filter="url(#bl)"/>
<ellipse cx="1111.2" cy="350.4" rx="13.9" ry="12.0" transform="rotate(0 1111.2 350.4)" fill="url(#ng)" opacity="0.85" filter="url(#bl)"/>
<circle cx="1106.8" cy="349.1" r="2.0" fill="#04383b" opacity="0.75" filter="url(#bl)"/>
<ellipse cx="1133.3" cy="343.6" rx="11.5" ry="12.5" transform="rotate(-30 1133.3 343.6)" fill="url(#ng)" opacity="0.9" filter="url(#bl)"/>
<circle cx="1134.9" cy="344.5" r="2.0" fill="#04383b" opacity="0.75" filter="url(#bl)"/>
<ellipse cx="1063.3" cy="358.4" rx="12.5" ry="10.1" transform="rotate(10 1063.3 358.4)" fill="url(#ng)" opacity="0.85" filter="url(#bl)"/>
<circle cx="1059.8" cy="356.2" r="2.0" fill="#04383b" opacity="0.75" filter="url(#bl)"/>
<ellipse cx="1189.9" cy="353.8" rx="7.7" ry="10.8" transform="rotate(-15 1189.9 353.8)" fill="url(#ng)" opacity="0.7" filter="url(#bl)"/>
<circle cx="1190.6" cy="350.7" r="2.0" fill="#04383b" opacity="0.75" filter="url(#bl)"/>
<ellipse cx="1227.5" cy="357.3" rx="11.5" ry="12.0" transform="rotate(0 1227.5 357.3)" fill="url(#ng)" opacity="0.7" filter="url(#bl)"/>
<circle cx="1225.5" cy="359.5" r="2.3" fill="#04383b" opacity="0.75" filter="url(#bl)"/>
<ellipse cx="1253.8" cy="357.3" rx="10.1" ry="15.6" transform="rotate(0 1253.8 357.3)" fill="url(#ng)" opacity="0.9" filter="url(#bl)"/>
<circle cx="1250.9" cy="359.7" r="2.1" fill="#04383b" opacity="0.75" filter="url(#bl)"/>
<ellipse cx="1280.0" cy="367.5" rx="10.8" ry="10.8" transform="rotate(0 1280.0 367.5)" fill="url(#ng)" opacity="0.8" filter="url(#bl)"/>
<circle cx="1280.1" cy="370.5" r="2.3" fill="#04383b" opacity="0.75" filter="url(#bl)"/>
<ellipse cx="1027.9" cy="369.8" rx="13.2" ry="9.1" transform="rotate(-20 1027.9 369.8)" fill="url(#ng)" opacity="0.85" filter="url(#bl)"/>
<circle cx="1030.7" cy="370.7" r="2.0" fill="#04383b" opacity="0.75" filter="url(#bl)"/>
<ellipse cx="1139.7" cy="367.5" rx="12.0" ry="8.4" transform="rotate(0 1139.7 367.5)" fill="url(#ng)" opacity="0.5" filter="url(#bl2)"/>
<ellipse cx="1169.4" cy="361.8" rx="6.0" ry="12.0" transform="rotate(30 1169.4 361.8)" fill="url(#ng)" opacity="0.5" filter="url(#bl2)"/>
<ellipse cx="1051.9" cy="385.8" rx="11.5" ry="14.9" transform="rotate(15 1051.9 385.8)" fill="url(#ng)" opacity="0.85" filter="url(#bl)"/>
<circle cx="1055.3" cy="381.6" r="2.0" fill="#04383b" opacity="0.75" filter="url(#bl)"/>
<ellipse cx="1160.2" cy="386.9" rx="13.2" ry="6.0" transform="rotate(-25 1160.2 386.9)" fill="url(#ng)" opacity="0.6" filter="url(#bl)"/>
<ellipse cx="1187.6" cy="380.1" rx="13.2" ry="6.0" transform="rotate(-30 1187.6 380.1)" fill="url(#ng)" opacity="0.5" filter="url(#bl2)"/>
<ellipse cx="1004.0" cy="399.5" rx="15.6" ry="12.0" transform="rotate(15 1004.0 399.5)" fill="url(#ng)" opacity="0.8" filter="url(#bl)"/>
<circle cx="1008.4" cy="396.9" r="1.9" fill="#04383b" opacity="0.75" filter="url(#bl)"/>
<ellipse cx="1089.5" cy="400.6" rx="8.4" ry="13.9" transform="rotate(10 1089.5 400.6)" fill="url(#ng)" opacity="0.8" filter="url(#bl)"/>
<circle cx="1088.4" cy="401.0" r="2.4" fill="#04383b" opacity="0.75" filter="url(#bl)"/>
<ellipse cx="1111.2" cy="396.0" rx="11.5" ry="10.8" transform="rotate(20 1111.2 396.0)" fill="url(#ng)" opacity="0.85" filter="url(#bl)"/>
<circle cx="1108.8" cy="392.5" r="2.4" fill="#04383b" opacity="0.75" filter="url(#bl)"/>
<ellipse cx="1201.3" cy="402.9" rx="13.2" ry="10.8" transform="rotate(0 1201.3 402.9)" fill="url(#ng)" opacity="0.85" filter="url(#bl)"/>
<circle cx="1199.1" cy="399.7" r="2.2" fill="#04383b" opacity="0.75" filter="url(#bl)"/>
<ellipse cx="1240.1" cy="400.6" rx="12.5" ry="11.5" transform="rotate(0 1240.1 400.6)" fill="url(#ng)" opacity="0.9" filter="url(#bl)"/>
<circle cx="1243.0" cy="402.6" r="1.6" fill="#04383b" opacity="0.75" filter="url(#bl)"/>
<ellipse cx="1275.5" cy="412.0" rx="10.8" ry="10.8" transform="rotate(10 1275.5 412.0)" fill="url(#ng)" opacity="0.7" filter="url(#bl)"/>
<circle cx="1277.8" cy="415.0" r="1.6" fill="#04383b" opacity="0.75" filter="url(#bl)"/>
<ellipse cx="1314.2" cy="408.6" rx="7.2" ry="13.2" transform="rotate(0 1314.2 408.6)" fill="url(#ng)" opacity="0.7" filter="url(#bl)"/>
<ellipse cx="1147.7" cy="420.0" rx="14.4" ry="10.1" transform="rotate(-10 1147.7 420.0)" fill="url(#ng)" opacity="0.8" filter="url(#bl)"/>
<circle cx="1149.2" cy="420.7" r="2.5" fill="#04383b" opacity="0.75" filter="url(#bl)"/>
<ellipse cx="1004.0" cy="434.8" rx="12.0" ry="14.9" transform="rotate(15 1004.0 434.8)" fill="url(#ng)" opacity="0.7" filter="url(#bl)"/>
<circle cx="1004.5" cy="436.2" r="2.4" fill="#04383b" opacity="0.75" filter="url(#bl)"/>
<ellipse cx="1029.1" cy="441.7" rx="8.4" ry="12.0" transform="rotate(-10 1029.1 441.7)" fill="url(#ng)" opacity="0.7" filter="url(#bl)"/>
<circle cx="1031.3" cy="444.8" r="2.3" fill="#04383b" opacity="0.75" filter="url(#bl)"/>
<ellipse cx="1056.4" cy="449.7" rx="12.0" ry="8.4" transform="rotate(0 1056.4 449.7)" fill="url(#ng)" opacity="0.85" filter="url(#bl)"/>
<circle cx="1059.0" cy="446.7" r="2.2" fill="#04383b" opacity="0.75" filter="url(#bl)"/>
<ellipse cx="1092.9" cy="447.4" rx="12.0" ry="9.1" transform="rotate(0 1092.9 447.4)" fill="url(#ng)" opacity="0.8" filter="url(#bl)"/>
<circle cx="1093.3" cy="446.4" r="2.4" fill="#04383b" opacity="0.75" filter="url(#bl)"/>
<ellipse cx="1122.6" cy="446.2" rx="9.6" ry="12.0" transform="rotate(-20 1122.6 446.2)" fill="url(#ng)" opacity="0.85" filter="url(#bl)"/>
<circle cx="1119.4" cy="446.0" r="1.7" fill="#04383b" opacity="0.75" filter="url(#bl)"/>
<ellipse cx="1150.0" cy="438.3" rx="12.0" ry="8.4" transform="rotate(0 1150.0 438.3)" fill="url(#ng)" opacity="0.4" filter="url(#bl2)"/>
<ellipse cx="1195.6" cy="438.3" rx="10.8" ry="16.3" transform="rotate(-20 1195.6 438.3)" fill="url(#ng)" opacity="0.95" filter="url(#bl)"/>
<circle cx="1195.6" cy="431.6" r="1.7" fill="#04383b" opacity="0.75" filter="url(#bl)"/>
<ellipse cx="1216.1" cy="433.7" rx="9.6" ry="12.0" transform="rotate(20 1216.1 433.7)" fill="url(#ng)" opacity="0.75" filter="url(#bl)"/>
<circle cx="1214.9" cy="436.7" r="2.4" fill="#04383b" opacity="0.75" filter="url(#bl)"/>
<ellipse cx="1265.2" cy="450.8" rx="8.4" ry="7.2" transform="rotate(0 1265.2 450.8)" fill="url(#ng)" opacity="0.7" filter="url(#bl)"/>
<ellipse cx="1288.0" cy="434.8" rx="12.0" ry="8.4" transform="rotate(0 1288.0 434.8)" fill="url(#ng)" opacity="0.3" filter="url(#bl2)"/>
<ellipse cx="1307.4" cy="447.4" rx="10.8" ry="9.6" transform="rotate(0 1307.4 447.4)" fill="url(#ng)" opacity="0.85" filter="url(#bl)"/>
<circle cx="1307.5" cy="448.9" r="1.8" fill="#04383b" opacity="0.75" filter="url(#bl)"/>
<ellipse cx="1314.2" cy="374.4" rx="6.0" ry="10.8" transform="rotate(0 1314.2 374.4)" fill="url(#ng)" opacity="0.6" filter="url(#bl)"/>
<ellipse cx="1086.1" cy="361.8" rx="1.9" ry="1.9" transform="rotate(0 1086.1 361.8)" fill="url(#ng)" opacity="1" filter="url(#bl)"/>
<ellipse cx="1027.9" cy="196.4" rx="7.2" ry="3.6" transform="rotate(0 1027.9 196.4)" fill="url(#ng)" opacity="0.6" filter="url(#bl)"/>
<ellipse cx="1233.3" cy="194.1" rx="9.6" ry="2.4" transform="rotate(0 1233.3 194.1)" fill="url(#ng)" opacity="0.8" filter="url(#bl)"/>
<ellipse cx="1316.5" cy="253.4" rx="2.9" ry="6.0" transform="rotate(0 1316.5 253.4)" fill="url(#ng)" opacity="0.9" filter="url(#bl)"/>
<ellipse cx="1316.5" cy="340.1" rx="2.4" ry="6.0" transform="rotate(0 1316.5 340.1)" fill="url(#ng)" opacity="0.7" filter="url(#bl)"/>
</g></g>
<g clip-path="url(#c1)"><text x="937" y="464.5" font-size="21" style="fill:#dff9ff">c3</text><text x="966" y="467" font-size="21" style="fill:#dff9ff">a</text></g>
<rect x="655.2" y="395.1" width="95.7" height="58" fill="#000"/>
<text class="b" x="675.9" y="435.2" font-size="31.8" style="fill:#1caef0">p63</text>
<text class="b" x="21.3" y="725.8" font-size="56">b</text>
<rect x="41.20" y="809" width="11.51" height="30.2" fill="#0000FF"/>
<rect x="52.41" y="809" width="11.51" height="30.2" fill="#2424FF"/>
<rect x="63.61" y="809" width="11.51" height="30.2" fill="#4848FF"/>
<rect x="74.82" y="809" width="11.51" height="30.2" fill="#6D6DFF"/>
<rect x="86.03" y="809" width="11.51" height="30.2" fill="#9191FF"/>
<rect x="97.23" y="809" width="11.51" height="30.2" fill="#B6B6FF"/>
<rect x="108.44" y="809" width="11.51" height="30.2" fill="#DADAFF"/>
<rect x="119.65" y="809" width="11.51" height="30.2" fill="#FFFFFF"/>
<rect x="130.85" y="809" width="11.51" height="30.2" fill="#FFDADA"/>
<rect x="142.06" y="809" width="11.51" height="30.2" fill="#FFB6B6"/>
<rect x="153.27" y="809" width="11.51" height="30.2" fill="#FF9191"/>
<rect x="164.47" y="809" width="11.51" height="30.2" fill="#FF6D6D"/>
<rect x="175.68" y="809" width="11.51" height="30.2" fill="#FF4848"/>
<rect x="186.89" y="809" width="11.51" height="30.2" fill="#FF2424"/>
<rect x="198.09" y="809" width="11.51" height="30.2" fill="#FF0000"/>
<rect x="57.2" y="839.2" width="1" height="2" fill="#555"/>
<text class="m" x="57.5" y="867.7" font-size="23.5" style="fill:#000">-2</text>
<rect x="91.0" y="839.2" width="1" height="2" fill="#555"/>
<text class="m" x="91.3" y="867.7" font-size="23.5" style="fill:#000">-1</text>
<rect x="124.7" y="839.2" width="1" height="2" fill="#555"/>
<text class="m" x="124.0" y="867.7" font-size="23.5" style="fill:#000">0</text>
<rect x="158.4" y="839.2" width="1" height="2" fill="#555"/>
<text class="m" x="158.0" y="867.7" font-size="23.5" style="fill:#000">1</text>
<rect x="192.2" y="839.2" width="1" height="2" fill="#555"/>
<text class="m" x="192.4" y="867.7" font-size="23.5" style="fill:#000">2</text>
<rect x="381.40" y="809" width="11.46" height="30.2" fill="#0000FF"/>
<rect x="392.56" y="809" width="11.46" height="30.2" fill="#2424FF"/>
<rect x="403.72" y="809" width="11.46" height="30.2" fill="#4848FF"/>
<rect x="414.88" y="809" width="11.46" height="30.2" fill="#6D6DFF"/>
<rect x="426.04" y="809" width="11.46" height="30.2" fill="#9191FF"/>
<rect x="437.20" y="809" width="11.46" height="30.2" fill="#B6B6FF"/>
<rect x="448.36" y="809" width="11.46" height="30.2" fill="#DADAFF"/>
<rect x="459.52" y="809" width="11.46" height="30.2" fill="#FFFFFF"/>
<rect x="470.68" y="809" width="11.46" height="30.2" fill="#FFDADA"/>
<rect x="481.84" y="809" width="11.46" height="30.2" fill="#FFB6B6"/>
<rect x="493.00" y="809" width="11.46" height="30.2" fill="#FF9191"/>
<rect x="504.16" y="809" width="11.46" height="30.2" fill="#FF6D6D"/>
<rect x="515.32" y="809" width="11.46" height="30.2" fill="#FF4848"/>
<rect x="526.48" y="809" width="11.46" height="30.2" fill="#FF2424"/>
<rect x="537.64" y="809" width="11.46" height="30.2" fill="#FF0000"/>
<rect x="392.0" y="839.2" width="1" height="2" fill="#555"/>
<text class="m" x="394.4" y="867.7" font-size="23.5" style="fill:#000">-2</text>
<rect x="428.3" y="839.2" width="1" height="2" fill="#555"/>
<text class="m" x="429.5" y="867.7" font-size="23.5" style="fill:#000">-1</text>
<rect x="464.6" y="839.2" width="1" height="2" fill="#555"/>
<text class="m" x="467.2" y="867.7" font-size="23.5" style="fill:#000">0</text>
<rect x="500.9" y="839.2" width="1" height="2" fill="#555"/>
<text class="m" x="502.3" y="867.7" font-size="23.5" style="fill:#000">1</text>
<rect x="537.2" y="839.2" width="1" height="2" fill="#555"/>
<text class="m" x="537.1" y="867.7" font-size="23.5" style="fill:#000">2</text>
<rect x="40.90" y="895.00" width="37.30" height="34.26" fill="#FFB6B6"/>
<rect x="79.00" y="895.00" width="37.30" height="34.26" fill="#FFB6B6"/>
<rect x="117.10" y="895.00" width="37.30" height="34.26" fill="#FF6D6D"/>
<rect x="155.20" y="895.00" width="37.30" height="34.26" fill="#FFB6B6"/>
<rect x="231.40" y="895.00" width="37.30" height="34.26" fill="#9191FF"/>
<rect x="269.50" y="895.00" width="37.30" height="34.26" fill="#6D6DFF"/>
<rect x="307.60" y="895.00" width="37.30" height="34.26" fill="#9191FF"/>
<rect x="40.90" y="930.66" width="37.30" height="34.26" fill="#FFDADA"/>
<rect x="79.00" y="930.66" width="37.30" height="34.26" fill="#FF9191"/>
<rect x="117.10" y="930.66" width="37.30" height="34.26" fill="#FF9191"/>
<rect x="155.20" y="930.66" width="37.30" height="34.26" fill="#FF6D6D"/>
<rect x="193.30" y="930.66" width="37.30" height="34.26" fill="#B6B6FF"/>
<rect x="231.40" y="930.66" width="37.30" height="34.26" fill="#9191FF"/>
<rect x="269.50" y="930.66" width="37.30" height="34.26" fill="#9191FF"/>
<rect x="307.60" y="930.66" width="37.30" height="34.26" fill="#B6B6FF"/>
<rect x="40.90" y="966.32" width="37.30" height="34.26" fill="#FFB6B6"/>
<rect x="79.00" y="966.32" width="37.30" height="34.26" fill="#FF9191"/>
<rect x="117.10" y="966.32" width="37.30" height="34.26" fill="#FFB6B6"/>
<rect x="155.20" y="966.32" width="37.30" height="34.26" fill="#FF6D6D"/>
<rect x="193.30" y="966.32" width="37.30" height="34.26" fill="#B6B6FF"/>
<rect x="231.40" y="966.32" width="37.30" height="34.26" fill="#6D6DFF"/>
<rect x="269.50" y="966.32" width="37.30" height="34.26" fill="#6D6DFF"/>
<rect x="307.60" y="966.32" width="37.30" height="34.26" fill="#B6B6FF"/>
<rect x="40.90" y="1001.98" width="37.30" height="34.26" fill="#FF9191"/>
<rect x="79.00" y="1001.98" width="37.30" height="34.26" fill="#B6B6FF"/>
<rect x="117.10" y="1001.98" width="37.30" height="34.26" fill="#DADAFF"/>
<rect x="155.20" y="1001.98" width="37.30" height="34.26" fill="#DADAFF"/>
<rect x="193.30" y="1001.98" width="37.30" height="34.26" fill="#FF2424"/>
<rect x="231.40" y="1001.98" width="37.30" height="34.26" fill="#9191FF"/>
<rect x="269.50" y="1001.98" width="37.30" height="34.26" fill="#9191FF"/>
<rect x="307.60" y="1001.98" width="37.30" height="34.26" fill="#DADAFF"/>
<rect x="40.90" y="1037.64" width="37.30" height="34.26" fill="#DADAFF"/>
<rect x="117.10" y="1037.64" width="37.30" height="34.26" fill="#FF0000"/>
<rect x="155.20" y="1037.64" width="37.30" height="34.26" fill="#FFDADA"/>
<rect x="193.30" y="1037.64" width="37.30" height="34.26" fill="#DADAFF"/>
<rect x="231.40" y="1037.64" width="37.30" height="34.26" fill="#9191FF"/>
<rect x="269.50" y="1037.64" width="37.30" height="34.26" fill="#9191FF"/>
<rect x="307.60" y="1037.64" width="37.30" height="34.26" fill="#DADAFF"/>
<rect x="40.90" y="1073.30" width="37.30" height="34.26" fill="#FFDADA"/>
<rect x="79.00" y="1073.30" width="37.30" height="34.26" fill="#FFDADA"/>
<rect x="117.10" y="1073.30" width="37.30" height="34.26" fill="#FF0000"/>
<rect x="155.20" y="1073.30" width="37.30" height="34.26" fill="#FFDADA"/>
<rect x="193.30" y="1073.30" width="37.30" height="34.26" fill="#B6B6FF"/>
<rect x="231.40" y="1073.30" width="37.30" height="34.26" fill="#B6B6FF"/>
<rect x="269.50" y="1073.30" width="37.30" height="34.26" fill="#9191FF"/>
<rect x="307.60" y="1073.30" width="37.30" height="34.26" fill="#B6B6FF"/>
<rect x="40.90" y="1108.96" width="37.30" height="34.26" fill="#FF9191"/>
<rect x="117.10" y="1108.96" width="37.30" height="34.26" fill="#FF6D6D"/>
<rect x="155.20" y="1108.96" width="37.30" height="34.26" fill="#FFDADA"/>
<rect x="193.30" y="1108.96" width="37.30" height="34.26" fill="#9191FF"/>
<rect x="231.40" y="1108.96" width="37.30" height="34.26" fill="#9191FF"/>
<rect x="269.50" y="1108.96" width="37.30" height="34.26" fill="#FFB6B6"/>
<rect x="307.60" y="1108.96" width="37.30" height="34.26" fill="#6D6DFF"/>
<rect x="40.90" y="1144.62" width="37.30" height="34.26" fill="#FF9191"/>
<rect x="79.00" y="1144.62" width="37.30" height="34.26" fill="#FFDADA"/>
<rect x="117.10" y="1144.62" width="37.30" height="34.26" fill="#FF6D6D"/>
<rect x="155.20" y="1144.62" width="37.30" height="34.26" fill="#FFB6B6"/>
<rect x="231.40" y="1144.62" width="37.30" height="34.26" fill="#6D6DFF"/>
<rect x="269.50" y="1144.62" width="37.30" height="34.26" fill="#6D6DFF"/>
<rect x="307.60" y="1144.62" width="37.30" height="34.26" fill="#9191FF"/>
<rect x="40.90" y="1180.28" width="37.30" height="34.26" fill="#FFB6B6"/>
<rect x="79.00" y="1180.28" width="37.30" height="34.26" fill="#DADAFF"/>
<rect x="117.10" y="1180.28" width="37.30" height="34.26" fill="#FF9191"/>
<rect x="155.20" y="1180.28" width="37.30" height="34.26" fill="#FFDADA"/>
<rect x="193.30" y="1180.28" width="37.30" height="34.26" fill="#FF6D6D"/>
<rect x="231.40" y="1180.28" width="37.30" height="34.26" fill="#6D6DFF"/>
<rect x="269.50" y="1180.28" width="37.30" height="34.26" fill="#6D6DFF"/>
<rect x="307.60" y="1180.28" width="37.30" height="34.26" fill="#B6B6FF"/>
<rect x="40.90" y="1215.94" width="37.30" height="34.26" fill="#FF9191"/>
<rect x="79.00" y="1215.94" width="37.30" height="34.26" fill="#FFB6B6"/>
<rect x="117.10" y="1215.94" width="37.30" height="34.26" fill="#FF6D6D"/>
<rect x="155.20" y="1215.94" width="37.30" height="34.26" fill="#FF9191"/>
<rect x="193.30" y="1215.94" width="37.30" height="34.26" fill="#DADAFF"/>
<rect x="231.40" y="1215.94" width="37.30" height="34.26" fill="#6D6DFF"/>
<rect x="269.50" y="1215.94" width="37.30" height="34.26" fill="#9191FF"/>
<rect x="307.60" y="1215.94" width="37.30" height="34.26" fill="#9191FF"/>
<rect x="40.90" y="1251.60" width="37.30" height="34.26" fill="#DADAFF"/>
<rect x="79.00" y="1251.60" width="37.30" height="34.26" fill="#DADAFF"/>
<rect x="117.10" y="1251.60" width="37.30" height="34.26" fill="#DADAFF"/>
<rect x="155.20" y="1251.60" width="37.30" height="34.26" fill="#DADAFF"/>
<rect x="193.30" y="1251.60" width="37.30" height="34.26" fill="#FF0000"/>
<rect x="231.40" y="1251.60" width="37.30" height="34.26" fill="#B6B6FF"/>
<rect x="269.50" y="1251.60" width="37.30" height="34.26" fill="#DADAFF"/>
<rect x="307.60" y="1251.60" width="37.30" height="34.26" fill="#DADAFF"/>
<rect x="79.00" y="1287.26" width="37.30" height="34.26" fill="#FF6D6D"/>
<rect x="117.10" y="1287.26" width="37.30" height="34.26" fill="#FF4848"/>
<rect x="155.20" y="1287.26" width="37.30" height="34.26" fill="#FFDADA"/>
<rect x="193.30" y="1287.26" width="37.30" height="34.26" fill="#B6B6FF"/>
<rect x="231.40" y="1287.26" width="37.30" height="34.26" fill="#9191FF"/>
<rect x="269.50" y="1287.26" width="37.30" height="34.26" fill="#9191FF"/>
<rect x="307.60" y="1287.26" width="37.30" height="34.26" fill="#B6B6FF"/>
<rect x="40.90" y="1322.92" width="37.30" height="34.26" fill="#FF9191"/>
<rect x="79.00" y="1322.92" width="37.30" height="34.26" fill="#FFDADA"/>
<rect x="155.20" y="1322.92" width="37.30" height="34.26" fill="#FF6D6D"/>
<rect x="193.30" y="1322.92" width="37.30" height="34.26" fill="#FF9191"/>
<rect x="231.40" y="1322.92" width="37.30" height="34.26" fill="#9191FF"/>
<rect x="269.50" y="1322.92" width="37.30" height="34.26" fill="#6D6DFF"/>
<rect x="307.60" y="1322.92" width="37.30" height="34.26" fill="#9191FF"/>
<rect x="40.90" y="1358.58" width="37.30" height="34.26" fill="#FFB6B6"/>
<rect x="79.00" y="1358.58" width="37.30" height="34.26" fill="#FFB6B6"/>
<rect x="117.10" y="1358.58" width="37.30" height="34.26" fill="#FF6D6D"/>
<rect x="155.20" y="1358.58" width="37.30" height="34.26" fill="#FFB6B6"/>
<rect x="231.40" y="1358.58" width="37.30" height="34.26" fill="#6D6DFF"/>
<rect x="269.50" y="1358.58" width="37.30" height="34.26" fill="#6D6DFF"/>
<rect x="307.60" y="1358.58" width="37.30" height="34.26" fill="#B6B6FF"/>
<rect x="40.90" y="1394.24" width="37.30" height="34.26" fill="#FFDADA"/>
<rect x="79.00" y="1394.24" width="37.30" height="34.26" fill="#FFB6B6"/>
<rect x="117.10" y="1394.24" width="37.30" height="34.26" fill="#FF2424"/>
<rect x="155.20" y="1394.24" width="37.30" height="34.26" fill="#FFB6B6"/>
<rect x="193.30" y="1394.24" width="37.30" height="34.26" fill="#DADAFF"/>
<rect x="231.40" y="1394.24" width="37.30" height="34.26" fill="#9191FF"/>
<rect x="269.50" y="1394.24" width="37.30" height="34.26" fill="#9191FF"/>
<rect x="307.60" y="1394.24" width="37.30" height="34.26" fill="#9191FF"/>
<rect x="40.90" y="1429.90" width="37.30" height="34.26" fill="#FFB6B6"/>
<rect x="79.00" y="1429.90" width="37.30" height="34.26" fill="#FFDADA"/>
<rect x="117.10" y="1429.90" width="37.30" height="34.26" fill="#FF6D6D"/>
<rect x="155.20" y="1429.90" width="37.30" height="34.26" fill="#FF6D6D"/>
<rect x="193.30" y="1429.90" width="37.30" height="34.26" fill="#9191FF"/>
<rect x="231.40" y="1429.90" width="37.30" height="34.26" fill="#9191FF"/>
<rect x="269.50" y="1429.90" width="37.30" height="34.26" fill="#9191FF"/>
<rect x="307.60" y="1429.90" width="37.30" height="34.26" fill="#B6B6FF"/>
<rect x="40.90" y="1465.56" width="37.30" height="34.26" fill="#FF9191"/>
<rect x="79.00" y="1465.56" width="37.30" height="34.26" fill="#FF9191"/>
<rect x="117.10" y="1465.56" width="37.30" height="34.26" fill="#FF9191"/>
<rect x="155.20" y="1465.56" width="37.30" height="34.26" fill="#FFB6B6"/>
<rect x="193.30" y="1465.56" width="37.30" height="34.26" fill="#B6B6FF"/>
<rect x="231.40" y="1465.56" width="37.30" height="34.26" fill="#9191FF"/>
<rect x="269.50" y="1465.56" width="37.30" height="34.26" fill="#9191FF"/>
<rect x="307.60" y="1465.56" width="37.30" height="34.26" fill="#9191FF"/>
<rect x="40.90" y="1501.22" width="37.30" height="34.26" fill="#FF4848"/>
<rect x="117.10" y="1501.22" width="37.30" height="34.26" fill="#FF9191"/>
<rect x="155.20" y="1501.22" width="37.30" height="34.26" fill="#FF9191"/>
<rect x="231.40" y="1501.22" width="37.30" height="34.26" fill="#6D6DFF"/>
<rect x="269.50" y="1501.22" width="37.30" height="34.26" fill="#9191FF"/>
<rect x="307.60" y="1501.22" width="37.30" height="34.26" fill="#B6B6FF"/>
<rect x="40.90" y="1536.88" width="37.30" height="34.26" fill="#FFDADA"/>
<rect x="79.00" y="1536.88" width="37.30" height="34.26" fill="#FFDADA"/>
<rect x="117.10" y="1536.88" width="37.30" height="34.26" fill="#FF2424"/>
<rect x="155.20" y="1536.88" width="37.30" height="34.26" fill="#FFB6B6"/>
<rect x="193.30" y="1536.88" width="37.30" height="34.26" fill="#DADAFF"/>
<rect x="231.40" y="1536.88" width="37.30" height="34.26" fill="#9191FF"/>
<rect x="269.50" y="1536.88" width="37.30" height="34.26" fill="#9191FF"/>
<rect x="307.60" y="1536.88" width="37.30" height="34.26" fill="#B6B6FF"/>
<rect x="40.90" y="1572.54" width="37.30" height="34.26" fill="#FF4848"/>
<rect x="79.00" y="1572.54" width="37.30" height="34.26" fill="#FFDADA"/>
<rect x="117.10" y="1572.54" width="37.30" height="34.26" fill="#FFDADA"/>
<rect x="155.20" y="1572.54" width="37.30" height="34.26" fill="#FF6D6D"/>
<rect x="193.30" y="1572.54" width="37.30" height="34.26" fill="#9191FF"/>
<rect x="231.40" y="1572.54" width="37.30" height="34.26" fill="#9191FF"/>
<rect x="269.50" y="1572.54" width="37.30" height="34.26" fill="#9191FF"/>
<rect x="307.60" y="1572.54" width="37.30" height="34.26" fill="#9191FF"/>
<rect x="383.30" y="895.00" width="37.31" height="34.26" fill="#FF9191"/>
<rect x="421.41" y="895.00" width="37.31" height="34.26" fill="#FF9191"/>
<rect x="459.52" y="895.00" width="37.31" height="34.26" fill="#FF9191"/>
<rect x="497.63" y="895.00" width="37.31" height="34.26" fill="#FF9191"/>
<rect x="535.74" y="895.00" width="37.31" height="34.26" fill="#9191FF"/>
<rect x="573.85" y="895.00" width="37.31" height="34.26" fill="#B6B6FF"/>
<rect x="611.96" y="895.00" width="37.31" height="34.26" fill="#9191FF"/>
<rect x="650.07" y="895.00" width="37.31" height="34.26" fill="#6D6DFF"/>
<rect x="383.30" y="930.66" width="37.31" height="34.26" fill="#FF9191"/>
<rect x="421.41" y="930.66" width="37.31" height="34.26" fill="#FF4848"/>
<rect x="459.52" y="930.66" width="37.31" height="34.26" fill="#FFB6B6"/>
<rect x="497.63" y="930.66" width="37.31" height="34.26" fill="#FFDADA"/>
<rect x="535.74" y="930.66" width="37.31" height="34.26" fill="#9191FF"/>
<rect x="573.85" y="930.66" width="37.31" height="34.26" fill="#9191FF"/>
<rect x="611.96" y="930.66" width="37.31" height="34.26" fill="#9191FF"/>
<rect x="650.07" y="930.66" width="37.31" height="34.26" fill="#9191FF"/>
<rect x="383.30" y="966.32" width="37.31" height="34.26" fill="#FF6D6D"/>
<rect x="421.41" y="966.32" width="37.31" height="34.26" fill="#FF6D6D"/>
<rect x="459.52" y="966.32" width="37.31" height="34.26" fill="#FFDADA"/>
<rect x="497.63" y="966.32" width="37.31" height="34.26" fill="#FFDADA"/>
<rect x="535.74" y="966.32" width="37.31" height="34.26" fill="#9191FF"/>
<rect x="573.85" y="966.32" width="37.31" height="34.26" fill="#9191FF"/>
<rect x="611.96" y="966.32" width="37.31" height="34.26" fill="#9191FF"/>
<rect x="650.07" y="966.32" width="37.31" height="34.26" fill="#9191FF"/>
<rect x="383.30" y="1001.98" width="37.31" height="34.26" fill="#FF2424"/>
<rect x="421.41" y="1001.98" width="37.31" height="34.26" fill="#FF6D6D"/>
<rect x="459.52" y="1001.98" width="37.31" height="34.26" fill="#DADAFF"/>
<rect x="535.74" y="1001.98" width="37.31" height="34.26" fill="#9191FF"/>
<rect x="573.85" y="1001.98" width="37.31" height="34.26" fill="#DADAFF"/>
<rect x="611.96" y="1001.98" width="37.31" height="34.26" fill="#B6B6FF"/>
<rect x="650.07" y="1001.98" width="37.31" height="34.26" fill="#B6B6FF"/>
<rect x="383.30" y="1037.64" width="37.31" height="34.26" fill="#FF4848"/>
<rect x="421.41" y="1037.64" width="37.31" height="34.26" fill="#FFB6B6"/>
<rect x="459.52" y="1037.64" width="37.31" height="34.26" fill="#FFDADA"/>
<rect x="497.63" y="1037.64" width="37.31" height="34.26" fill="#FF9191"/>
<rect x="535.74" y="1037.64" width="37.31" height="34.26" fill="#9191FF"/>
<rect x="573.85" y="1037.64" width="37.31" height="34.26" fill="#9191FF"/>
<rect x="611.96" y="1037.64" width="37.31" height="34.26" fill="#9191FF"/>
<rect x="650.07" y="1037.64" width="37.31" height="34.26" fill="#9191FF"/>
<rect x="383.30" y="1073.30" width="37.31" height="34.26" fill="#FF4848"/>
<rect x="421.41" y="1073.30" width="37.31" height="34.26" fill="#FFB6B6"/>
<rect x="459.52" y="1073.30" width="37.31" height="34.26" fill="#FFDADA"/>
<rect x="497.63" y="1073.30" width="37.31" height="34.26" fill="#FF9191"/>
<rect x="535.74" y="1073.30" width="37.31" height="34.26" fill="#9191FF"/>
<rect x="573.85" y="1073.30" width="37.31" height="34.26" fill="#B6B6FF"/>
<rect x="611.96" y="1073.30" width="37.31" height="34.26" fill="#9191FF"/>
<rect x="650.07" y="1073.30" width="37.31" height="34.26" fill="#6D6DFF"/>
<rect x="383.30" y="1108.96" width="37.31" height="34.26" fill="#FF6D6D"/>
<rect x="421.41" y="1108.96" width="37.31" height="34.26" fill="#DADAFF"/>
<rect x="459.52" y="1108.96" width="37.31" height="34.26" fill="#FFB6B6"/>
<rect x="497.63" y="1108.96" width="37.31" height="34.26" fill="#FFB6B6"/>
<rect x="573.85" y="1108.96" width="37.31" height="34.26" fill="#4848FF"/>
<rect x="611.96" y="1108.96" width="37.31" height="34.26" fill="#4848FF"/>
<rect x="650.07" y="1108.96" width="37.31" height="34.26" fill="#FF9191"/>
<rect x="383.30" y="1144.62" width="37.31" height="34.26" fill="#FF6D6D"/>
<rect x="421.41" y="1144.62" width="37.31" height="34.26" fill="#FF9191"/>
<rect x="459.52" y="1144.62" width="37.31" height="34.26" fill="#FF9191"/>
<rect x="497.63" y="1144.62" width="37.31" height="34.26" fill="#FF9191"/>
<rect x="535.74" y="1144.62" width="37.31" height="34.26" fill="#9191FF"/>
<rect x="573.85" y="1144.62" width="37.31" height="34.26" fill="#9191FF"/>
<rect x="611.96" y="1144.62" width="37.31" height="34.26" fill="#9191FF"/>
<rect x="650.07" y="1144.62" width="37.31" height="34.26" fill="#B6B6FF"/>
<rect x="383.30" y="1180.28" width="37.31" height="34.26" fill="#FFDADA"/>
<rect x="421.41" y="1180.28" width="37.31" height="34.26" fill="#FFB6B6"/>
<rect x="459.52" y="1180.28" width="37.31" height="34.26" fill="#FF9191"/>
<rect x="497.63" y="1180.28" width="37.31" height="34.26" fill="#FF4848"/>
<rect x="535.74" y="1180.28" width="37.31" height="34.26" fill="#9191FF"/>
<rect x="573.85" y="1180.28" width="37.31" height="34.26" fill="#B6B6FF"/>
<rect x="611.96" y="1180.28" width="37.31" height="34.26" fill="#6D6DFF"/>
<rect x="650.07" y="1180.28" width="37.31" height="34.26" fill="#B6B6FF"/>
<rect x="383.30" y="1215.94" width="37.31" height="34.26" fill="#FF9191"/>
<rect x="421.41" y="1215.94" width="37.31" height="34.26" fill="#FFB6B6"/>
<rect x="459.52" y="1215.94" width="37.31" height="34.26" fill="#FFB6B6"/>
<rect x="497.63" y="1215.94" width="37.31" height="34.26" fill="#FF4848"/>
<rect x="535.74" y="1215.94" width="37.31" height="34.26" fill="#6D6DFF"/>
<rect x="573.85" y="1215.94" width="37.31" height="34.26" fill="#9191FF"/>
<rect x="611.96" y="1215.94" width="37.31" height="34.26" fill="#9191FF"/>
<rect x="650.07" y="1215.94" width="37.31" height="34.26" fill="#DADAFF"/>
<rect x="383.30" y="1251.60" width="37.31" height="34.26" fill="#DADAFF"/>
<rect x="421.41" y="1251.60" width="37.31" height="34.26" fill="#9191FF"/>
<rect x="459.52" y="1251.60" width="37.31" height="34.26" fill="#FF4848"/>
<rect x="497.63" y="1251.60" width="37.31" height="34.26" fill="#DADAFF"/>
<rect x="535.74" y="1251.60" width="37.31" height="34.26" fill="#DADAFF"/>
<rect x="573.85" y="1251.60" width="37.31" height="34.26" fill="#B6B6FF"/>
<rect x="611.96" y="1251.60" width="37.31" height="34.26" fill="#9191FF"/>
<rect x="650.07" y="1251.60" width="37.31" height="34.26" fill="#FF4848"/>
<rect x="383.30" y="1287.26" width="37.31" height="34.26" fill="#FF6D6D"/>
<rect x="421.41" y="1287.26" width="37.31" height="34.26" fill="#FF4848"/>
<rect x="497.63" y="1287.26" width="37.31" height="34.26" fill="#FF9191"/>
<rect x="535.74" y="1287.26" width="37.31" height="34.26" fill="#9191FF"/>
<rect x="573.85" y="1287.26" width="37.31" height="34.26" fill="#B6B6FF"/>
<rect x="611.96" y="1287.26" width="37.31" height="34.26" fill="#9191FF"/>
<rect x="650.07" y="1287.26" width="37.31" height="34.26" fill="#9191FF"/>
<rect x="383.30" y="1322.92" width="37.31" height="34.26" fill="#FFDADA"/>
<rect x="421.41" y="1322.92" width="37.31" height="34.26" fill="#FF4848"/>
<rect x="459.52" y="1322.92" width="37.31" height="34.26" fill="#B6B6FF"/>
<rect x="497.63" y="1322.92" width="37.31" height="34.26" fill="#FF6D6D"/>
<rect x="535.74" y="1322.92" width="37.31" height="34.26" fill="#6D6DFF"/>
<rect x="573.85" y="1322.92" width="37.31" height="34.26" fill="#DADAFF"/>
<rect x="611.96" y="1322.92" width="37.31" height="34.26" fill="#B6B6FF"/>
<rect x="650.07" y="1322.92" width="37.31" height="34.26" fill="#B6B6FF"/>
<rect x="383.30" y="1358.58" width="37.31" height="34.26" fill="#FF6D6D"/>
<rect x="421.41" y="1358.58" width="37.31" height="34.26" fill="#FFB6B6"/>
<rect x="459.52" y="1358.58" width="37.31" height="34.26" fill="#FF9191"/>
<rect x="497.63" y="1358.58" width="37.31" height="34.26" fill="#FF9191"/>
<rect x="535.74" y="1358.58" width="37.31" height="34.26" fill="#9191FF"/>
<rect x="573.85" y="1358.58" width="37.31" height="34.26" fill="#9191FF"/>
<rect x="611.96" y="1358.58" width="37.31" height="34.26" fill="#9191FF"/>
<rect x="650.07" y="1358.58" width="37.31" height="34.26" fill="#9191FF"/>
<rect x="383.30" y="1394.24" width="37.31" height="34.26" fill="#FF9191"/>
<rect x="421.41" y="1394.24" width="37.31" height="34.26" fill="#FF6D6D"/>
<rect x="459.52" y="1394.24" width="37.31" height="34.26" fill="#FF9191"/>
<rect x="497.63" y="1394.24" width="37.31" height="34.26" fill="#FFB6B6"/>
<rect x="535.74" y="1394.24" width="37.31" height="34.26" fill="#9191FF"/>
<rect x="573.85" y="1394.24" width="37.31" height="34.26" fill="#9191FF"/>
<rect x="611.96" y="1394.24" width="37.31" height="34.26" fill="#9191FF"/>
<rect x="650.07" y="1394.24" width="37.31" height="34.26" fill="#9191FF"/>
<rect x="421.41" y="1429.90" width="37.31" height="34.26" fill="#DADAFF"/>
<rect x="459.52" y="1429.90" width="37.31" height="34.26" fill="#FFB6B6"/>
<rect x="497.63" y="1429.90" width="37.31" height="34.26" fill="#FF0000"/>
<rect x="535.74" y="1429.90" width="37.31" height="34.26" fill="#B6B6FF"/>
<rect x="573.85" y="1429.90" width="37.31" height="34.26" fill="#B6B6FF"/>
<rect x="611.96" y="1429.90" width="37.31" height="34.26" fill="#B6B6FF"/>
<rect x="650.07" y="1429.90" width="37.31" height="34.26" fill="#B6B6FF"/>
<rect x="383.30" y="1465.56" width="37.31" height="34.26" fill="#FF9191"/>
<rect x="421.41" y="1465.56" width="37.31" height="34.26" fill="#FF6D6D"/>
<rect x="497.63" y="1465.56" width="37.31" height="34.26" fill="#FF6D6D"/>
<rect x="535.74" y="1465.56" width="37.31" height="34.26" fill="#9191FF"/>
<rect x="573.85" y="1465.56" width="37.31" height="34.26" fill="#B6B6FF"/>
<rect x="611.96" y="1465.56" width="37.31" height="34.26" fill="#9191FF"/>
<rect x="650.07" y="1465.56" width="37.31" height="34.26" fill="#9191FF"/>
<rect x="383.30" y="1501.22" width="37.31" height="34.26" fill="#FF9191"/>
<rect x="421.41" y="1501.22" width="37.31" height="34.26" fill="#FF9191"/>
<rect x="459.52" y="1501.22" width="37.31" height="34.26" fill="#FFB6B6"/>
<rect x="497.63" y="1501.22" width="37.31" height="34.26" fill="#FF6D6D"/>
<rect x="535.74" y="1501.22" width="37.31" height="34.26" fill="#9191FF"/>
<rect x="573.85" y="1501.22" width="37.31" height="34.26" fill="#9191FF"/>
<rect x="611.96" y="1501.22" width="37.31" height="34.26" fill="#9191FF"/>
<rect x="650.07" y="1501.22" width="37.31" height="34.26" fill="#9191FF"/>
<rect x="383.30" y="1536.88" width="37.31" height="34.26" fill="#FF6D6D"/>
<rect x="421.41" y="1536.88" width="37.31" height="34.26" fill="#FFB6B6"/>
<rect x="459.52" y="1536.88" width="37.31" height="34.26" fill="#FFB6B6"/>
<rect x="497.63" y="1536.88" width="37.31" height="34.26" fill="#FF9191"/>
<rect x="535.74" y="1536.88" width="37.31" height="34.26" fill="#9191FF"/>
<rect x="573.85" y="1536.88" width="37.31" height="34.26" fill="#9191FF"/>
<rect x="611.96" y="1536.88" width="37.31" height="34.26" fill="#9191FF"/>
<rect x="650.07" y="1536.88" width="37.31" height="34.26" fill="#9191FF"/>
<rect x="383.30" y="1572.54" width="37.31" height="34.26" fill="#FF9191"/>
<rect x="459.52" y="1572.54" width="37.31" height="34.26" fill="#FF9191"/>
<rect x="497.63" y="1572.54" width="37.31" height="34.26" fill="#FFB6B6"/>
<rect x="535.74" y="1572.54" width="37.31" height="34.26" fill="#FF9191"/>
<rect x="573.85" y="1572.54" width="37.31" height="34.26" fill="#6D6DFF"/>
<rect x="611.96" y="1572.54" width="37.31" height="34.26" fill="#4848FF"/>
<text x="707.4" y="925.6" font-size="29.5" style="fill:#000">TP63</text>
<text x="707.4" y="961.3" font-size="29.5" style="fill:#000">KRT5</text>
<text x="707.4" y="996.9" font-size="29.5" style="fill:#000">KRT13</text>
<text x="707.4" y="1032.6" font-size="29.5" style="fill:#000">KRT14</text>
<text x="707.4" y="1068.2" font-size="29.5" style="fill:#000">KRT17</text>
<text x="707.4" y="1103.9" font-size="29.5" style="fill:#000">NGFR</text>
<text x="707.4" y="1139.6" font-size="29.5" style="fill:#000">IGFR2</text>
<text x="707.4" y="1175.2" font-size="29.5" style="fill:#000">EGFR</text>
<text x="707.4" y="1210.9" font-size="29.5" style="fill:#000">ITGA6</text>
<text x="707.4" y="1246.5" font-size="29.5" style="fill:#000">ITGA3</text>
<text x="707.4" y="1282.2" font-size="29.5" style="fill:#000">ICAM1</text>
<text x="707.4" y="1317.9" font-size="29.5" style="fill:#000">AQP3</text>
<text x="707.4" y="1353.5" font-size="29.5" style="fill:#000">PDPN</text>
<text x="707.4" y="1389.2" font-size="29.5" style="fill:#000">BNC1</text>
<text x="707.4" y="1424.8" font-size="29.5" style="fill:#000">CD44</text>
<text x="707.4" y="1460.5" font-size="29.5" style="fill:#000">TF</text>
<text x="707.4" y="1496.2" font-size="29.5" style="fill:#000">JAG2</text>
<text x="707.4" y="1531.8" font-size="29.5" style="fill:#000">MST1R</text>
<text x="707.4" y="1567.5" font-size="29.5" style="fill:#000">CPAMD7</text>
<text x="707.4" y="1603.1" font-size="29.5" style="fill:#000">FAS</text>
<text class="m" x="56.3" y="1656" font-size="31" style="fill:#000">1</text>
<text class="m" x="95.8" y="1656" font-size="31" style="fill:#000">2</text>
<text class="m" x="135.4" y="1656" font-size="31" style="fill:#000">3</text>
<text class="m" x="174.8" y="1656" font-size="31" style="fill:#000">4</text>
<text class="m" x="218.3" y="1656" font-size="31" style="fill:#000">1</text>
<text class="m" x="255.3" y="1656" font-size="31" style="fill:#000">2</text>
<text class="m" x="292.2" y="1656" font-size="31" style="fill:#000">3</text>
<text class="m" x="329.3" y="1656" font-size="31" style="fill:#000">4</text>
<text class="m" x="405.8" y="1656" font-size="31" style="fill:#000">1</text>
<text class="m" x="443.8" y="1656" font-size="31" style="fill:#000">2</text>
<text class="m" x="481.3" y="1656" font-size="31" style="fill:#000">3</text>
<text class="m" x="519.1" y="1656" font-size="31" style="fill:#000">4</text>
<text class="m" x="557.8" y="1656" font-size="31" style="fill:#000">1</text>
<text class="m" x="595.2" y="1656" font-size="31" style="fill:#000">2</text>
<text class="m" x="633.4" y="1656" font-size="31" style="fill:#000">3</text>
<text class="m" x="670.5" y="1656" font-size="31" style="fill:#000">4</text>
<rect x="42.7" y="1677.8" width="148.6" height="3" fill="#000"/>
<rect x="199" y="1677.8" width="148.8" height="3" fill="#000"/>
<rect x="386.3" y="1677.8" width="148.5" height="3" fill="#000"/>
<rect x="546.6" y="1677.8" width="148.3" height="3" fill="#000"/>
<text class="b m" x="104.5" y="1707.6" font-size="22.2">Preterm</text>
<text class="b m" x="104.5" y="1734.8" font-size="22.2">Undifferentiated</text>
<text class="b m" x="104.5" y="1762.0" font-size="22.2">Progenitors</text>
<text class="b m" x="275" y="1707.6" font-size="22.2">Preterm</text>
<text class="b m" x="275" y="1734.8" font-size="22.2">Differentiated</text>
<text class="b m" x="275" y="1762.0" font-size="22.2">Progenitors</text>
<text class="b m" x="275" y="1789.2" font-size="22.2">ALI Day 21</text>
<text class="b m" x="459" y="1707.6" font-size="22.2">Term</text>
<text class="b m" x="459" y="1734.8" font-size="22.2">Undifferentiated</text>
<text class="b m" x="459" y="1762.0" font-size="22.2">Progenitors</text>
<text class="b m" x="630" y="1707.6" font-size="22.2">Term</text>
<text class="b m" x="630" y="1734.8" font-size="22.2">Differentiated</text>
<text class="b m" x="630" y="1762.0" font-size="22.2">Progenitors</text>
<text class="b m" x="630" y="1789.2" font-size="22.2">ALI Day 21</text>
<text class="b" x="870" y="726.8" font-size="55">c</text>
<rect x="1001.5" y="812.9" width="525.0" height="526.0000000000001" fill="#EBEBEB"/>
<rect x="1043.3" y="812.9" width="1" height="526.0000000000001" fill="#f7f7f7"/>
<rect x="1178.8" y="812.9" width="1" height="526.0000000000001" fill="#f7f7f7"/>
<rect x="1314.4" y="812.9" width="1" height="526.0000000000001" fill="#f7f7f7"/>
<rect x="1449.9" y="812.9" width="1" height="526.0000000000001" fill="#f7f7f7"/>
<rect x="1001.5" y="1230.7" width="525.0" height="1" fill="#f7f7f7"/>
<rect x="1001.5" y="1121.7" width="525.0" height="1" fill="#f7f7f7"/>
<rect x="1001.5" y="1012.7" width="525.0" height="1" fill="#f7f7f7"/>
<rect x="1001.5" y="903.7" width="525.0" height="1" fill="#f7f7f7"/>
<rect x="1110.5" y="812.9" width="2" height="526.0000000000001" fill="#fff"/>
<rect x="1110.9" y="1338.9" width="1.6" height="4.5" fill="#333"/>
<text class="m g" x="1111.0" y="1364" font-size="18.5">-30</text>
<rect x="1246.1" y="812.9" width="2" height="526.0000000000001" fill="#fff"/>
<rect x="1246.5" y="1338.9" width="1.6" height="4.5" fill="#333"/>
<text class="m g" x="1247.1" y="1364" font-size="18.5">0</text>
<rect x="1381.7" y="812.9" width="2" height="526.0000000000001" fill="#fff"/>
<rect x="1382.1" y="1338.9" width="1.6" height="4.5" fill="#333"/>
<text class="m g" x="1382.7" y="1364" font-size="18.5">30</text>
<rect x="1517.2" y="812.9" width="2" height="526.0000000000001" fill="#fff"/>
<rect x="1517.6" y="1338.9" width="1.6" height="4.5" fill="#333"/>
<text class="m g" x="1518.2" y="1364" font-size="18.5">60</text>
<rect x="1001.5" y="1284.7" width="525.0" height="2" fill="#fff"/>
<rect x="996.5" y="1284.9" width="5" height="1.6" fill="#333"/>
<text class="e g" x="991.5" y="1292.2" font-size="18.5">-10</text>
<rect x="1001.5" y="1175.7" width="525.0" height="2" fill="#fff"/>
<rect x="996.5" y="1175.9" width="5" height="1.6" fill="#333"/>
<text class="e g" x="991.5" y="1183.2" font-size="18.5">-5</text>
<rect x="1001.5" y="1066.7" width="525.0" height="2" fill="#fff"/>
<rect x="996.5" y="1066.9" width="5" height="1.6" fill="#333"/>
<text class="e g" x="991.5" y="1074.2" font-size="18.5">0</text>
<rect x="1001.5" y="957.7" width="525.0" height="2" fill="#fff"/>
<rect x="996.5" y="957.9" width="5" height="1.6" fill="#333"/>
<text class="e g" x="991.5" y="965.2" font-size="18.5">5</text>
<rect x="1001.5" y="848.7" width="525.0" height="2" fill="#fff"/>
<rect x="996.5" y="848.9" width="5" height="1.6" fill="#333"/>
<text class="e g" x="991.5" y="856.2" font-size="18.5">10</text>
<circle cx="1072.2" cy="837.5" r="11" fill="#FF0000"/>
<circle cx="1050.2" cy="865.2" r="11" fill="#FF0000"/>
<circle cx="1061.2" cy="874.4" r="11" fill="#FF0000"/>
<circle cx="1040.1" cy="1023.8" r="11" fill="#FF0000"/>
<circle cx="1025.6" cy="1097.4" r="11" fill="#0000FF"/>
<circle cx="1034.4" cy="1231.2" r="11" fill="#0000FF"/>
<circle cx="1038.8" cy="1233.4" r="11" fill="#0000FF"/>
<circle cx="1036.6" cy="1268.6" r="11" fill="#0000FF"/>
<path d="M1439.5 833.6 L1455.3 860.0 L1423.7 860.0 Z" fill="#0000FF"/>
<path d="M1467.6 887.7 L1483.4 914.1 L1451.8 914.1 Z" fill="#FF0000"/>
<path d="M1478.2 898.2 L1494.0 924.6 L1462.4 924.6 Z" fill="#FF0000"/>
<path d="M1457.5 1041.2 L1473.3 1067.6 L1441.7 1067.6 Z" fill="#0000FF"/>
<path d="M1501.5 1102.7 L1517.3 1129.1 L1485.7 1129.1 Z" fill="#0000FF"/>
<path d="M1457.5 1198.4 L1473.3 1224.8 L1441.7 1224.8 Z" fill="#0000FF"/>
<path d="M1447.4 1241.9 L1463.2 1268.3 L1431.6 1268.3 Z" fill="#FF0000"/>
<path d="M1343.3 1295.9 L1359.1 1322.3 L1327.5 1322.3 Z" fill="#FF0000"/>
<text class="m" x="1269.2" y="1416.6" font-size="37.9">PC1: 90% variance</text>
<text class="m" transform="translate(945.4 1070.2) rotate(-90)" font-size="37.8">PC2: 3% variance</text>
<text class="b" x="1228.7" y="1488.6" font-size="30">Condition</text>
<rect x="1217.5" y="1499.3" width="26.5" height="27.2" fill="#0000FF"/>
<rect x="1217.5" y="1526.5" width="26.5" height="27.3" fill="#FF0000"/>
<text class="b" x="1265" y="1519.5" font-size="25.5">Term</text>
<text class="b" x="1264.5" y="1550" font-size="25.8">Preterm</text>
<text class="b" x="1228.7" y="1615" font-size="30">Cells</text>
<circle cx="1206" cy="1635.5" r="11.5" fill="#000"/>
<path d="M1206 1649.5 L1218 1673 L1194 1673 Z" fill="#000"/>
<text class="b" x="1228.8" y="1646.3" font-size="25.9">Undifferentiated</text>
<text class="b" x="1236" y="1676.3" font-size="25.3">ALI Day 21</text>
</svg></body></html>
